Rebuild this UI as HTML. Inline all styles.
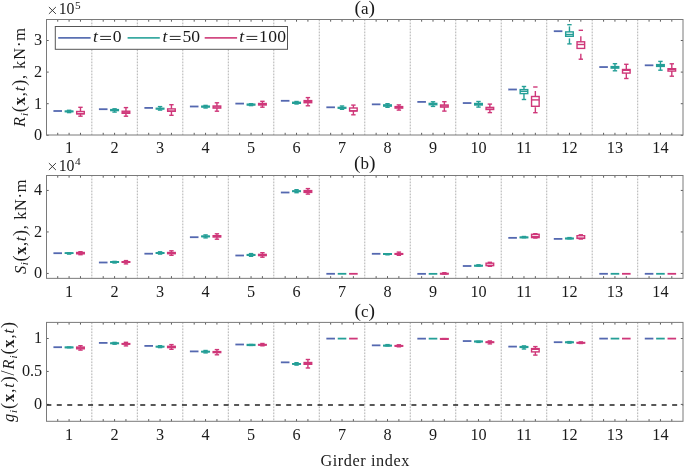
<!DOCTYPE html><html><head><meta charset="utf-8"><style>html,body{margin:0;padding:0;background:#fff;}svg{display:block;will-change:transform}</style></head><body>
<svg width="685" height="468" viewBox="0 0 685 468">
<rect width="685" height="468" fill="#fff"/>
<line x1="91.84" y1="19.5" x2="91.84" y2="135" stroke="#a3a3a3" stroke-width="0.85" stroke-dasharray="1.8 1.2"/>
<line x1="137.33" y1="19.5" x2="137.33" y2="135" stroke="#a3a3a3" stroke-width="0.85" stroke-dasharray="1.8 1.2"/>
<line x1="182.81" y1="19.5" x2="182.81" y2="135" stroke="#a3a3a3" stroke-width="0.85" stroke-dasharray="1.8 1.2"/>
<line x1="228.3" y1="19.5" x2="228.3" y2="135" stroke="#a3a3a3" stroke-width="0.85" stroke-dasharray="1.8 1.2"/>
<line x1="273.79" y1="19.5" x2="273.79" y2="135" stroke="#a3a3a3" stroke-width="0.85" stroke-dasharray="1.8 1.2"/>
<line x1="319.28" y1="19.5" x2="319.28" y2="135" stroke="#a3a3a3" stroke-width="0.85" stroke-dasharray="1.8 1.2"/>
<line x1="364.77" y1="19.5" x2="364.77" y2="135" stroke="#a3a3a3" stroke-width="0.85" stroke-dasharray="1.8 1.2"/>
<line x1="410.25" y1="19.5" x2="410.25" y2="135" stroke="#a3a3a3" stroke-width="0.85" stroke-dasharray="1.8 1.2"/>
<line x1="455.74" y1="19.5" x2="455.74" y2="135" stroke="#a3a3a3" stroke-width="0.85" stroke-dasharray="1.8 1.2"/>
<line x1="501.23" y1="19.5" x2="501.23" y2="135" stroke="#a3a3a3" stroke-width="0.85" stroke-dasharray="1.8 1.2"/>
<line x1="546.72" y1="19.5" x2="546.72" y2="135" stroke="#a3a3a3" stroke-width="0.85" stroke-dasharray="1.8 1.2"/>
<line x1="592.21" y1="19.5" x2="592.21" y2="135" stroke="#a3a3a3" stroke-width="0.85" stroke-dasharray="1.8 1.2"/>
<line x1="637.69" y1="19.5" x2="637.69" y2="135" stroke="#a3a3a3" stroke-width="0.85" stroke-dasharray="1.8 1.2"/>
<line x1="57.72" y1="135" x2="57.72" y2="132.8" stroke="#333" stroke-width="0.8"/>
<line x1="57.72" y1="19.5" x2="57.72" y2="21.7" stroke="#333" stroke-width="0.8"/>
<line x1="69.09" y1="135" x2="69.09" y2="132.8" stroke="#333" stroke-width="0.8"/>
<line x1="69.09" y1="19.5" x2="69.09" y2="21.7" stroke="#333" stroke-width="0.8"/>
<line x1="80.47" y1="135" x2="80.47" y2="132.8" stroke="#333" stroke-width="0.8"/>
<line x1="80.47" y1="19.5" x2="80.47" y2="21.7" stroke="#333" stroke-width="0.8"/>
<line x1="103.21" y1="135" x2="103.21" y2="132.8" stroke="#333" stroke-width="0.8"/>
<line x1="103.21" y1="19.5" x2="103.21" y2="21.7" stroke="#333" stroke-width="0.8"/>
<line x1="114.58" y1="135" x2="114.58" y2="132.8" stroke="#333" stroke-width="0.8"/>
<line x1="114.58" y1="19.5" x2="114.58" y2="21.7" stroke="#333" stroke-width="0.8"/>
<line x1="125.95" y1="135" x2="125.95" y2="132.8" stroke="#333" stroke-width="0.8"/>
<line x1="125.95" y1="19.5" x2="125.95" y2="21.7" stroke="#333" stroke-width="0.8"/>
<line x1="148.7" y1="135" x2="148.7" y2="132.8" stroke="#333" stroke-width="0.8"/>
<line x1="148.7" y1="19.5" x2="148.7" y2="21.7" stroke="#333" stroke-width="0.8"/>
<line x1="160.07" y1="135" x2="160.07" y2="132.8" stroke="#333" stroke-width="0.8"/>
<line x1="160.07" y1="19.5" x2="160.07" y2="21.7" stroke="#333" stroke-width="0.8"/>
<line x1="171.44" y1="135" x2="171.44" y2="132.8" stroke="#333" stroke-width="0.8"/>
<line x1="171.44" y1="19.5" x2="171.44" y2="21.7" stroke="#333" stroke-width="0.8"/>
<line x1="194.19" y1="135" x2="194.19" y2="132.8" stroke="#333" stroke-width="0.8"/>
<line x1="194.19" y1="19.5" x2="194.19" y2="21.7" stroke="#333" stroke-width="0.8"/>
<line x1="205.56" y1="135" x2="205.56" y2="132.8" stroke="#333" stroke-width="0.8"/>
<line x1="205.56" y1="19.5" x2="205.56" y2="21.7" stroke="#333" stroke-width="0.8"/>
<line x1="216.93" y1="135" x2="216.93" y2="132.8" stroke="#333" stroke-width="0.8"/>
<line x1="216.93" y1="19.5" x2="216.93" y2="21.7" stroke="#333" stroke-width="0.8"/>
<line x1="239.67" y1="135" x2="239.67" y2="132.8" stroke="#333" stroke-width="0.8"/>
<line x1="239.67" y1="19.5" x2="239.67" y2="21.7" stroke="#333" stroke-width="0.8"/>
<line x1="251.05" y1="135" x2="251.05" y2="132.8" stroke="#333" stroke-width="0.8"/>
<line x1="251.05" y1="19.5" x2="251.05" y2="21.7" stroke="#333" stroke-width="0.8"/>
<line x1="262.42" y1="135" x2="262.42" y2="132.8" stroke="#333" stroke-width="0.8"/>
<line x1="262.42" y1="19.5" x2="262.42" y2="21.7" stroke="#333" stroke-width="0.8"/>
<line x1="285.16" y1="135" x2="285.16" y2="132.8" stroke="#333" stroke-width="0.8"/>
<line x1="285.16" y1="19.5" x2="285.16" y2="21.7" stroke="#333" stroke-width="0.8"/>
<line x1="296.53" y1="135" x2="296.53" y2="132.8" stroke="#333" stroke-width="0.8"/>
<line x1="296.53" y1="19.5" x2="296.53" y2="21.7" stroke="#333" stroke-width="0.8"/>
<line x1="307.91" y1="135" x2="307.91" y2="132.8" stroke="#333" stroke-width="0.8"/>
<line x1="307.91" y1="19.5" x2="307.91" y2="21.7" stroke="#333" stroke-width="0.8"/>
<line x1="330.65" y1="135" x2="330.65" y2="132.8" stroke="#333" stroke-width="0.8"/>
<line x1="330.65" y1="19.5" x2="330.65" y2="21.7" stroke="#333" stroke-width="0.8"/>
<line x1="342.02" y1="135" x2="342.02" y2="132.8" stroke="#333" stroke-width="0.8"/>
<line x1="342.02" y1="19.5" x2="342.02" y2="21.7" stroke="#333" stroke-width="0.8"/>
<line x1="353.39" y1="135" x2="353.39" y2="132.8" stroke="#333" stroke-width="0.8"/>
<line x1="353.39" y1="19.5" x2="353.39" y2="21.7" stroke="#333" stroke-width="0.8"/>
<line x1="376.14" y1="135" x2="376.14" y2="132.8" stroke="#333" stroke-width="0.8"/>
<line x1="376.14" y1="19.5" x2="376.14" y2="21.7" stroke="#333" stroke-width="0.8"/>
<line x1="387.51" y1="135" x2="387.51" y2="132.8" stroke="#333" stroke-width="0.8"/>
<line x1="387.51" y1="19.5" x2="387.51" y2="21.7" stroke="#333" stroke-width="0.8"/>
<line x1="398.88" y1="135" x2="398.88" y2="132.8" stroke="#333" stroke-width="0.8"/>
<line x1="398.88" y1="19.5" x2="398.88" y2="21.7" stroke="#333" stroke-width="0.8"/>
<line x1="421.63" y1="135" x2="421.63" y2="132.8" stroke="#333" stroke-width="0.8"/>
<line x1="421.63" y1="19.5" x2="421.63" y2="21.7" stroke="#333" stroke-width="0.8"/>
<line x1="433" y1="135" x2="433" y2="132.8" stroke="#333" stroke-width="0.8"/>
<line x1="433" y1="19.5" x2="433" y2="21.7" stroke="#333" stroke-width="0.8"/>
<line x1="444.37" y1="135" x2="444.37" y2="132.8" stroke="#333" stroke-width="0.8"/>
<line x1="444.37" y1="19.5" x2="444.37" y2="21.7" stroke="#333" stroke-width="0.8"/>
<line x1="467.11" y1="135" x2="467.11" y2="132.8" stroke="#333" stroke-width="0.8"/>
<line x1="467.11" y1="19.5" x2="467.11" y2="21.7" stroke="#333" stroke-width="0.8"/>
<line x1="478.49" y1="135" x2="478.49" y2="132.8" stroke="#333" stroke-width="0.8"/>
<line x1="478.49" y1="19.5" x2="478.49" y2="21.7" stroke="#333" stroke-width="0.8"/>
<line x1="489.86" y1="135" x2="489.86" y2="132.8" stroke="#333" stroke-width="0.8"/>
<line x1="489.86" y1="19.5" x2="489.86" y2="21.7" stroke="#333" stroke-width="0.8"/>
<line x1="512.6" y1="135" x2="512.6" y2="132.8" stroke="#333" stroke-width="0.8"/>
<line x1="512.6" y1="19.5" x2="512.6" y2="21.7" stroke="#333" stroke-width="0.8"/>
<line x1="523.97" y1="135" x2="523.97" y2="132.8" stroke="#333" stroke-width="0.8"/>
<line x1="523.97" y1="19.5" x2="523.97" y2="21.7" stroke="#333" stroke-width="0.8"/>
<line x1="535.35" y1="135" x2="535.35" y2="132.8" stroke="#333" stroke-width="0.8"/>
<line x1="535.35" y1="19.5" x2="535.35" y2="21.7" stroke="#333" stroke-width="0.8"/>
<line x1="558.09" y1="135" x2="558.09" y2="132.8" stroke="#333" stroke-width="0.8"/>
<line x1="558.09" y1="19.5" x2="558.09" y2="21.7" stroke="#333" stroke-width="0.8"/>
<line x1="569.46" y1="135" x2="569.46" y2="132.8" stroke="#333" stroke-width="0.8"/>
<line x1="569.46" y1="19.5" x2="569.46" y2="21.7" stroke="#333" stroke-width="0.8"/>
<line x1="580.83" y1="135" x2="580.83" y2="132.8" stroke="#333" stroke-width="0.8"/>
<line x1="580.83" y1="19.5" x2="580.83" y2="21.7" stroke="#333" stroke-width="0.8"/>
<line x1="603.58" y1="135" x2="603.58" y2="132.8" stroke="#333" stroke-width="0.8"/>
<line x1="603.58" y1="19.5" x2="603.58" y2="21.7" stroke="#333" stroke-width="0.8"/>
<line x1="614.95" y1="135" x2="614.95" y2="132.8" stroke="#333" stroke-width="0.8"/>
<line x1="614.95" y1="19.5" x2="614.95" y2="21.7" stroke="#333" stroke-width="0.8"/>
<line x1="626.32" y1="135" x2="626.32" y2="132.8" stroke="#333" stroke-width="0.8"/>
<line x1="626.32" y1="19.5" x2="626.32" y2="21.7" stroke="#333" stroke-width="0.8"/>
<line x1="649.07" y1="135" x2="649.07" y2="132.8" stroke="#333" stroke-width="0.8"/>
<line x1="649.07" y1="19.5" x2="649.07" y2="21.7" stroke="#333" stroke-width="0.8"/>
<line x1="660.44" y1="135" x2="660.44" y2="132.8" stroke="#333" stroke-width="0.8"/>
<line x1="660.44" y1="19.5" x2="660.44" y2="21.7" stroke="#333" stroke-width="0.8"/>
<line x1="671.81" y1="135" x2="671.81" y2="132.8" stroke="#333" stroke-width="0.8"/>
<line x1="671.81" y1="19.5" x2="671.81" y2="21.7" stroke="#333" stroke-width="0.8"/>
<line x1="46.5" y1="135.3" x2="48.7" y2="135.3" stroke="#333" stroke-width="0.8"/>
<line x1="683" y1="135.3" x2="680.8" y2="135.3" stroke="#333" stroke-width="0.8"/>
<text x="42.2" y="140.2" text-anchor="end" font-family="'Liberation Serif', serif" font-size="16.2" fill="#1a1a1a">0</text>
<line x1="46.5" y1="103.7" x2="48.7" y2="103.7" stroke="#333" stroke-width="0.8"/>
<line x1="683" y1="103.7" x2="680.8" y2="103.7" stroke="#333" stroke-width="0.8"/>
<text x="42.2" y="108.6" text-anchor="end" font-family="'Liberation Serif', serif" font-size="16.2" fill="#1a1a1a">1</text>
<line x1="46.5" y1="72.1" x2="48.7" y2="72.1" stroke="#333" stroke-width="0.8"/>
<line x1="683" y1="72.1" x2="680.8" y2="72.1" stroke="#333" stroke-width="0.8"/>
<text x="42.2" y="77" text-anchor="end" font-family="'Liberation Serif', serif" font-size="16.2" fill="#1a1a1a">2</text>
<line x1="46.5" y1="40.5" x2="48.7" y2="40.5" stroke="#333" stroke-width="0.8"/>
<line x1="683" y1="40.5" x2="680.8" y2="40.5" stroke="#333" stroke-width="0.8"/>
<text x="42.2" y="45.4" text-anchor="end" font-family="'Liberation Serif', serif" font-size="16.2" fill="#1a1a1a">3</text>
<text x="69.09" y="153.2" text-anchor="middle" font-family="'Liberation Serif', serif" font-size="16.2" fill="#1a1a1a">1</text>
<text x="114.58" y="153.2" text-anchor="middle" font-family="'Liberation Serif', serif" font-size="16.2" fill="#1a1a1a">2</text>
<text x="160.07" y="153.2" text-anchor="middle" font-family="'Liberation Serif', serif" font-size="16.2" fill="#1a1a1a">3</text>
<text x="205.56" y="153.2" text-anchor="middle" font-family="'Liberation Serif', serif" font-size="16.2" fill="#1a1a1a">4</text>
<text x="251.05" y="153.2" text-anchor="middle" font-family="'Liberation Serif', serif" font-size="16.2" fill="#1a1a1a">5</text>
<text x="296.53" y="153.2" text-anchor="middle" font-family="'Liberation Serif', serif" font-size="16.2" fill="#1a1a1a">6</text>
<text x="342.02" y="153.2" text-anchor="middle" font-family="'Liberation Serif', serif" font-size="16.2" fill="#1a1a1a">7</text>
<text x="387.51" y="153.2" text-anchor="middle" font-family="'Liberation Serif', serif" font-size="16.2" fill="#1a1a1a">8</text>
<text x="433" y="153.2" text-anchor="middle" font-family="'Liberation Serif', serif" font-size="16.2" fill="#1a1a1a">9</text>
<text x="478.49" y="153.2" text-anchor="middle" font-family="'Liberation Serif', serif" font-size="16.2" fill="#1a1a1a">10</text>
<text x="523.97" y="153.2" text-anchor="middle" font-family="'Liberation Serif', serif" font-size="16.2" fill="#1a1a1a">11</text>
<text x="569.46" y="153.2" text-anchor="middle" font-family="'Liberation Serif', serif" font-size="16.2" fill="#1a1a1a">12</text>
<text x="614.95" y="153.2" text-anchor="middle" font-family="'Liberation Serif', serif" font-size="16.2" fill="#1a1a1a">13</text>
<text x="660.44" y="153.2" text-anchor="middle" font-family="'Liberation Serif', serif" font-size="16.2" fill="#1a1a1a">14</text>
<line x1="53.42" y1="111" x2="62.02" y2="111" stroke="#5468b0" stroke-width="1.8"/>
<line x1="69.09" y1="111.1" x2="69.09" y2="110.3" stroke="#259f97" stroke-width="1.4" stroke-dasharray="5.5 5.5"/>
<line x1="69.09" y1="112.6" x2="69.09" y2="111.7" stroke="#259f97" stroke-width="1.4" stroke-dasharray="5.5 5.5"/>
<line x1="66.89" y1="110.3" x2="71.29" y2="110.3" stroke="#259f97" stroke-width="1.4"/>
<line x1="66.89" y1="112.6" x2="71.29" y2="112.6" stroke="#259f97" stroke-width="1.4"/>
<rect x="65.29" y="111.1" width="7.6" height="0.6" fill="none" stroke="#259f97" stroke-width="1.4"/>
<line x1="65.29" y1="111.4" x2="72.89" y2="111.4" stroke="#259f97" stroke-width="1.4"/>
<line x1="80.47" y1="111.5" x2="80.47" y2="107.3" stroke="#cf3779" stroke-width="1.4" stroke-dasharray="5.5 5.5"/>
<line x1="80.47" y1="116.2" x2="80.47" y2="113.9" stroke="#cf3779" stroke-width="1.4" stroke-dasharray="5.5 5.5"/>
<line x1="78.27" y1="107.3" x2="82.67" y2="107.3" stroke="#cf3779" stroke-width="1.4"/>
<line x1="78.27" y1="116.2" x2="82.67" y2="116.2" stroke="#cf3779" stroke-width="1.4"/>
<rect x="76.67" y="111.5" width="7.6" height="2.4" fill="none" stroke="#cf3779" stroke-width="1.4"/>
<line x1="76.67" y1="113.6" x2="84.27" y2="113.6" stroke="#cf3779" stroke-width="1.4"/>
<line x1="98.91" y1="109.2" x2="107.51" y2="109.2" stroke="#5468b0" stroke-width="1.8"/>
<line x1="114.58" y1="109.6" x2="114.58" y2="108.8" stroke="#259f97" stroke-width="1.4" stroke-dasharray="5.5 5.5"/>
<line x1="114.58" y1="112.1" x2="114.58" y2="110.6" stroke="#259f97" stroke-width="1.4" stroke-dasharray="5.5 5.5"/>
<line x1="112.38" y1="108.8" x2="116.78" y2="108.8" stroke="#259f97" stroke-width="1.4"/>
<line x1="112.38" y1="112.1" x2="116.78" y2="112.1" stroke="#259f97" stroke-width="1.4"/>
<rect x="110.78" y="109.6" width="7.6" height="1" fill="none" stroke="#259f97" stroke-width="1.4"/>
<line x1="110.78" y1="110.1" x2="118.38" y2="110.1" stroke="#259f97" stroke-width="1.4"/>
<line x1="125.95" y1="111.2" x2="125.95" y2="107.6" stroke="#cf3779" stroke-width="1.4" stroke-dasharray="5.5 5.5"/>
<line x1="125.95" y1="116.2" x2="125.95" y2="113.3" stroke="#cf3779" stroke-width="1.4" stroke-dasharray="5.5 5.5"/>
<line x1="123.75" y1="107.6" x2="128.15" y2="107.6" stroke="#cf3779" stroke-width="1.4"/>
<line x1="123.75" y1="116.2" x2="128.15" y2="116.2" stroke="#cf3779" stroke-width="1.4"/>
<rect x="122.15" y="111.2" width="7.6" height="2.1" fill="none" stroke="#cf3779" stroke-width="1.4"/>
<line x1="122.15" y1="112.2" x2="129.75" y2="112.2" stroke="#cf3779" stroke-width="1.4"/>
<line x1="144.4" y1="107.9" x2="153" y2="107.9" stroke="#5468b0" stroke-width="1.8"/>
<line x1="160.07" y1="108.3" x2="160.07" y2="106.6" stroke="#259f97" stroke-width="1.4" stroke-dasharray="5.5 5.5"/>
<line x1="160.07" y1="110.1" x2="160.07" y2="109" stroke="#259f97" stroke-width="1.4" stroke-dasharray="5.5 5.5"/>
<line x1="157.87" y1="106.6" x2="162.27" y2="106.6" stroke="#259f97" stroke-width="1.4"/>
<line x1="157.87" y1="110.1" x2="162.27" y2="110.1" stroke="#259f97" stroke-width="1.4"/>
<rect x="156.27" y="108.3" width="7.6" height="0.7" fill="none" stroke="#259f97" stroke-width="1.4"/>
<line x1="156.27" y1="108.65" x2="163.87" y2="108.65" stroke="#259f97" stroke-width="1.4"/>
<line x1="171.44" y1="108.9" x2="171.44" y2="104.7" stroke="#cf3779" stroke-width="1.4" stroke-dasharray="5.5 5.5"/>
<line x1="171.44" y1="115.3" x2="171.44" y2="111.3" stroke="#cf3779" stroke-width="1.4" stroke-dasharray="5.5 5.5"/>
<line x1="169.24" y1="104.7" x2="173.64" y2="104.7" stroke="#cf3779" stroke-width="1.4"/>
<line x1="169.24" y1="115.3" x2="173.64" y2="115.3" stroke="#cf3779" stroke-width="1.4"/>
<rect x="167.64" y="108.9" width="7.6" height="2.4" fill="none" stroke="#cf3779" stroke-width="1.4"/>
<line x1="167.64" y1="111.1" x2="175.24" y2="111.1" stroke="#cf3779" stroke-width="1.4"/>
<line x1="189.89" y1="106.5" x2="198.49" y2="106.5" stroke="#5468b0" stroke-width="1.8"/>
<line x1="205.56" y1="106.2" x2="205.56" y2="105.4" stroke="#259f97" stroke-width="1.4" stroke-dasharray="5.5 5.5"/>
<line x1="205.56" y1="108" x2="205.56" y2="107" stroke="#259f97" stroke-width="1.4" stroke-dasharray="5.5 5.5"/>
<line x1="203.36" y1="105.4" x2="207.76" y2="105.4" stroke="#259f97" stroke-width="1.4"/>
<line x1="203.36" y1="108" x2="207.76" y2="108" stroke="#259f97" stroke-width="1.4"/>
<rect x="201.76" y="106.2" width="7.6" height="0.8" fill="none" stroke="#259f97" stroke-width="1.4"/>
<line x1="201.76" y1="106.6" x2="209.36" y2="106.6" stroke="#259f97" stroke-width="1.4"/>
<line x1="216.93" y1="106" x2="216.93" y2="102.8" stroke="#cf3779" stroke-width="1.4" stroke-dasharray="5.5 5.5"/>
<line x1="216.93" y1="111.2" x2="216.93" y2="108.1" stroke="#cf3779" stroke-width="1.4" stroke-dasharray="5.5 5.5"/>
<line x1="214.73" y1="102.8" x2="219.13" y2="102.8" stroke="#cf3779" stroke-width="1.4"/>
<line x1="214.73" y1="111.2" x2="219.13" y2="111.2" stroke="#cf3779" stroke-width="1.4"/>
<rect x="213.13" y="106" width="7.6" height="2.1" fill="none" stroke="#cf3779" stroke-width="1.4"/>
<line x1="213.13" y1="107" x2="220.73" y2="107" stroke="#cf3779" stroke-width="1.4"/>
<line x1="235.37" y1="103.6" x2="243.97" y2="103.6" stroke="#5468b0" stroke-width="1.8"/>
<line x1="251.05" y1="104.2" x2="251.05" y2="103.7" stroke="#259f97" stroke-width="1.4" stroke-dasharray="5.5 5.5"/>
<line x1="251.05" y1="105.6" x2="251.05" y2="105" stroke="#259f97" stroke-width="1.4" stroke-dasharray="5.5 5.5"/>
<line x1="248.85" y1="103.7" x2="253.25" y2="103.7" stroke="#259f97" stroke-width="1.4"/>
<line x1="248.85" y1="105.6" x2="253.25" y2="105.6" stroke="#259f97" stroke-width="1.4"/>
<rect x="247.25" y="104.2" width="7.6" height="0.8" fill="none" stroke="#259f97" stroke-width="1.4"/>
<line x1="247.25" y1="104.6" x2="254.85" y2="104.6" stroke="#259f97" stroke-width="1.4"/>
<line x1="262.42" y1="103.5" x2="262.42" y2="101.3" stroke="#cf3779" stroke-width="1.4" stroke-dasharray="5.5 5.5"/>
<line x1="262.42" y1="107.2" x2="262.42" y2="105" stroke="#cf3779" stroke-width="1.4" stroke-dasharray="5.5 5.5"/>
<line x1="260.22" y1="101.3" x2="264.62" y2="101.3" stroke="#cf3779" stroke-width="1.4"/>
<line x1="260.22" y1="107.2" x2="264.62" y2="107.2" stroke="#cf3779" stroke-width="1.4"/>
<rect x="258.62" y="103.5" width="7.6" height="1.5" fill="none" stroke="#cf3779" stroke-width="1.4"/>
<line x1="258.62" y1="104.3" x2="266.22" y2="104.3" stroke="#cf3779" stroke-width="1.4"/>
<line x1="280.86" y1="100.8" x2="289.46" y2="100.8" stroke="#5468b0" stroke-width="1.8"/>
<line x1="296.53" y1="102.3" x2="296.53" y2="101.5" stroke="#259f97" stroke-width="1.4" stroke-dasharray="5.5 5.5"/>
<line x1="296.53" y1="104" x2="296.53" y2="103.3" stroke="#259f97" stroke-width="1.4" stroke-dasharray="5.5 5.5"/>
<line x1="294.33" y1="101.5" x2="298.73" y2="101.5" stroke="#259f97" stroke-width="1.4"/>
<line x1="294.33" y1="104" x2="298.73" y2="104" stroke="#259f97" stroke-width="1.4"/>
<rect x="292.73" y="102.3" width="7.6" height="1" fill="none" stroke="#259f97" stroke-width="1.4"/>
<line x1="292.73" y1="102.8" x2="300.33" y2="102.8" stroke="#259f97" stroke-width="1.4"/>
<line x1="307.91" y1="100.6" x2="307.91" y2="97.6" stroke="#cf3779" stroke-width="1.4" stroke-dasharray="5.5 5.5"/>
<line x1="307.91" y1="105.8" x2="307.91" y2="102.7" stroke="#cf3779" stroke-width="1.4" stroke-dasharray="5.5 5.5"/>
<line x1="305.71" y1="97.6" x2="310.11" y2="97.6" stroke="#cf3779" stroke-width="1.4"/>
<line x1="305.71" y1="105.8" x2="310.11" y2="105.8" stroke="#cf3779" stroke-width="1.4"/>
<rect x="304.11" y="100.6" width="7.6" height="2.1" fill="none" stroke="#cf3779" stroke-width="1.4"/>
<line x1="304.11" y1="101.6" x2="311.71" y2="101.6" stroke="#cf3779" stroke-width="1.4"/>
<line x1="326.35" y1="107.3" x2="334.95" y2="107.3" stroke="#5468b0" stroke-width="1.8"/>
<line x1="342.02" y1="107.4" x2="342.02" y2="106" stroke="#259f97" stroke-width="1.4" stroke-dasharray="5.5 5.5"/>
<line x1="342.02" y1="109.3" x2="342.02" y2="108.2" stroke="#259f97" stroke-width="1.4" stroke-dasharray="5.5 5.5"/>
<line x1="339.82" y1="106" x2="344.22" y2="106" stroke="#259f97" stroke-width="1.4"/>
<line x1="339.82" y1="109.3" x2="344.22" y2="109.3" stroke="#259f97" stroke-width="1.4"/>
<rect x="338.22" y="107.4" width="7.6" height="0.8" fill="none" stroke="#259f97" stroke-width="1.4"/>
<line x1="338.22" y1="107.8" x2="345.82" y2="107.8" stroke="#259f97" stroke-width="1.4"/>
<line x1="353.39" y1="108" x2="353.39" y2="105.1" stroke="#cf3779" stroke-width="1.4" stroke-dasharray="5.5 5.5"/>
<line x1="353.39" y1="114.8" x2="353.39" y2="111" stroke="#cf3779" stroke-width="1.4" stroke-dasharray="5.5 5.5"/>
<line x1="351.19" y1="105.1" x2="355.59" y2="105.1" stroke="#cf3779" stroke-width="1.4"/>
<line x1="351.19" y1="114.8" x2="355.59" y2="114.8" stroke="#cf3779" stroke-width="1.4"/>
<rect x="349.59" y="108" width="7.6" height="3" fill="none" stroke="#cf3779" stroke-width="1.4"/>
<line x1="349.59" y1="110.8" x2="357.19" y2="110.8" stroke="#cf3779" stroke-width="1.4"/>
<line x1="371.84" y1="104.35" x2="380.44" y2="104.35" stroke="#5468b0" stroke-width="1.8"/>
<line x1="387.51" y1="104.9" x2="387.51" y2="103.7" stroke="#259f97" stroke-width="1.4" stroke-dasharray="5.5 5.5"/>
<line x1="387.51" y1="107.3" x2="387.51" y2="106.1" stroke="#259f97" stroke-width="1.4" stroke-dasharray="5.5 5.5"/>
<line x1="385.31" y1="103.7" x2="389.71" y2="103.7" stroke="#259f97" stroke-width="1.4"/>
<line x1="385.31" y1="107.3" x2="389.71" y2="107.3" stroke="#259f97" stroke-width="1.4"/>
<rect x="383.71" y="104.9" width="7.6" height="1.2" fill="none" stroke="#259f97" stroke-width="1.4"/>
<line x1="383.71" y1="105.5" x2="391.31" y2="105.5" stroke="#259f97" stroke-width="1.4"/>
<line x1="398.88" y1="106.6" x2="398.88" y2="104.9" stroke="#cf3779" stroke-width="1.4" stroke-dasharray="5.5 5.5"/>
<line x1="398.88" y1="110.1" x2="398.88" y2="108.1" stroke="#cf3779" stroke-width="1.4" stroke-dasharray="5.5 5.5"/>
<line x1="396.68" y1="104.9" x2="401.08" y2="104.9" stroke="#cf3779" stroke-width="1.4"/>
<line x1="396.68" y1="110.1" x2="401.08" y2="110.1" stroke="#cf3779" stroke-width="1.4"/>
<rect x="395.08" y="106.6" width="7.6" height="1.5" fill="none" stroke="#cf3779" stroke-width="1.4"/>
<line x1="395.08" y1="107.4" x2="402.68" y2="107.4" stroke="#cf3779" stroke-width="1.4"/>
<line x1="417.33" y1="101.9" x2="425.93" y2="101.9" stroke="#5468b0" stroke-width="1.8"/>
<line x1="433" y1="103.4" x2="433" y2="101.8" stroke="#259f97" stroke-width="1.4" stroke-dasharray="5.5 5.5"/>
<line x1="433" y1="106.4" x2="433" y2="104.7" stroke="#259f97" stroke-width="1.4" stroke-dasharray="5.5 5.5"/>
<line x1="430.8" y1="101.8" x2="435.2" y2="101.8" stroke="#259f97" stroke-width="1.4"/>
<line x1="430.8" y1="106.4" x2="435.2" y2="106.4" stroke="#259f97" stroke-width="1.4"/>
<rect x="429.2" y="103.4" width="7.6" height="1.3" fill="none" stroke="#259f97" stroke-width="1.4"/>
<line x1="429.2" y1="104.1" x2="436.8" y2="104.1" stroke="#259f97" stroke-width="1.4"/>
<line x1="444.37" y1="105" x2="444.37" y2="101.7" stroke="#cf3779" stroke-width="1.4" stroke-dasharray="5.5 5.5"/>
<line x1="444.37" y1="111.1" x2="444.37" y2="107.1" stroke="#cf3779" stroke-width="1.4" stroke-dasharray="5.5 5.5"/>
<line x1="442.17" y1="101.7" x2="446.57" y2="101.7" stroke="#cf3779" stroke-width="1.4"/>
<line x1="442.17" y1="111.1" x2="446.57" y2="111.1" stroke="#cf3779" stroke-width="1.4"/>
<rect x="440.57" y="105" width="7.6" height="2.1" fill="none" stroke="#cf3779" stroke-width="1.4"/>
<line x1="440.57" y1="106" x2="448.17" y2="106" stroke="#cf3779" stroke-width="1.4"/>
<line x1="462.81" y1="103.05" x2="471.41" y2="103.05" stroke="#5468b0" stroke-width="1.8"/>
<line x1="478.49" y1="103.5" x2="478.49" y2="101.5" stroke="#259f97" stroke-width="1.4" stroke-dasharray="5.5 5.5"/>
<line x1="478.49" y1="107.1" x2="478.49" y2="105" stroke="#259f97" stroke-width="1.4" stroke-dasharray="5.5 5.5"/>
<line x1="476.29" y1="101.5" x2="480.69" y2="101.5" stroke="#259f97" stroke-width="1.4"/>
<line x1="476.29" y1="107.1" x2="480.69" y2="107.1" stroke="#259f97" stroke-width="1.4"/>
<rect x="474.69" y="103.5" width="7.6" height="1.5" fill="none" stroke="#259f97" stroke-width="1.4"/>
<line x1="474.69" y1="104.3" x2="482.29" y2="104.3" stroke="#259f97" stroke-width="1.4"/>
<line x1="489.86" y1="107.4" x2="489.86" y2="104.1" stroke="#cf3779" stroke-width="1.4" stroke-dasharray="5.5 5.5"/>
<line x1="489.86" y1="112.6" x2="489.86" y2="109.5" stroke="#cf3779" stroke-width="1.4" stroke-dasharray="5.5 5.5"/>
<line x1="487.66" y1="104.1" x2="492.06" y2="104.1" stroke="#cf3779" stroke-width="1.4"/>
<line x1="487.66" y1="112.6" x2="492.06" y2="112.6" stroke="#cf3779" stroke-width="1.4"/>
<rect x="486.06" y="107.4" width="7.6" height="2.1" fill="none" stroke="#cf3779" stroke-width="1.4"/>
<line x1="486.06" y1="109.2" x2="493.66" y2="109.2" stroke="#cf3779" stroke-width="1.4"/>
<line x1="508.3" y1="89.5" x2="516.9" y2="89.5" stroke="#5468b0" stroke-width="1.8"/>
<line x1="523.97" y1="89.6" x2="523.97" y2="86.5" stroke="#259f97" stroke-width="1.4" stroke-dasharray="5.5 5.5"/>
<line x1="523.97" y1="99.5" x2="523.97" y2="93.6" stroke="#259f97" stroke-width="1.4" stroke-dasharray="5.5 5.5"/>
<line x1="521.77" y1="86.5" x2="526.17" y2="86.5" stroke="#259f97" stroke-width="1.4"/>
<line x1="521.77" y1="99.5" x2="526.17" y2="99.5" stroke="#259f97" stroke-width="1.4"/>
<rect x="520.17" y="89.6" width="7.6" height="4" fill="none" stroke="#259f97" stroke-width="1.4"/>
<line x1="520.17" y1="91.3" x2="527.77" y2="91.3" stroke="#259f97" stroke-width="1.4"/>
<line x1="535.35" y1="96.5" x2="535.35" y2="87" stroke="#cf3779" stroke-width="1.4" stroke-dasharray="5.5 5.5"/>
<line x1="535.35" y1="112.7" x2="535.35" y2="106.3" stroke="#cf3779" stroke-width="1.4" stroke-dasharray="5.5 5.5"/>
<line x1="533.15" y1="87" x2="537.55" y2="87" stroke="#cf3779" stroke-width="1.4"/>
<line x1="533.15" y1="112.7" x2="537.55" y2="112.7" stroke="#cf3779" stroke-width="1.4"/>
<rect x="531.55" y="96.5" width="7.6" height="9.8" fill="none" stroke="#cf3779" stroke-width="1.4"/>
<line x1="531.55" y1="99.9" x2="539.15" y2="99.9" stroke="#cf3779" stroke-width="1.4"/>
<line x1="553.79" y1="31.2" x2="562.39" y2="31.2" stroke="#5468b0" stroke-width="1.8"/>
<line x1="569.46" y1="31.9" x2="569.46" y2="24.7" stroke="#259f97" stroke-width="1.4" stroke-dasharray="5.5 5.5"/>
<line x1="569.46" y1="43.9" x2="569.46" y2="36.3" stroke="#259f97" stroke-width="1.4" stroke-dasharray="5.5 5.5"/>
<line x1="567.26" y1="24.7" x2="571.66" y2="24.7" stroke="#259f97" stroke-width="1.4"/>
<line x1="567.26" y1="43.9" x2="571.66" y2="43.9" stroke="#259f97" stroke-width="1.4"/>
<rect x="565.66" y="31.9" width="7.6" height="4.4" fill="none" stroke="#259f97" stroke-width="1.4"/>
<line x1="565.66" y1="34.5" x2="573.26" y2="34.5" stroke="#259f97" stroke-width="1.4"/>
<line x1="580.83" y1="41.8" x2="580.83" y2="30.3" stroke="#cf3779" stroke-width="1.4" stroke-dasharray="5.5 5.5"/>
<line x1="580.83" y1="59.2" x2="580.83" y2="48.4" stroke="#cf3779" stroke-width="1.4" stroke-dasharray="5.5 5.5"/>
<line x1="578.63" y1="30.3" x2="583.03" y2="30.3" stroke="#cf3779" stroke-width="1.4"/>
<line x1="578.63" y1="59.2" x2="583.03" y2="59.2" stroke="#cf3779" stroke-width="1.4"/>
<rect x="577.03" y="41.8" width="7.6" height="6.6" fill="none" stroke="#cf3779" stroke-width="1.4"/>
<line x1="577.03" y1="44.5" x2="584.63" y2="44.5" stroke="#cf3779" stroke-width="1.4"/>
<line x1="599.28" y1="67.05" x2="607.88" y2="67.05" stroke="#5468b0" stroke-width="1.8"/>
<line x1="614.95" y1="66.6" x2="614.95" y2="63.7" stroke="#259f97" stroke-width="1.4" stroke-dasharray="5.5 5.5"/>
<line x1="614.95" y1="70.8" x2="614.95" y2="68.1" stroke="#259f97" stroke-width="1.4" stroke-dasharray="5.5 5.5"/>
<line x1="612.75" y1="63.7" x2="617.15" y2="63.7" stroke="#259f97" stroke-width="1.4"/>
<line x1="612.75" y1="70.8" x2="617.15" y2="70.8" stroke="#259f97" stroke-width="1.4"/>
<rect x="611.15" y="66.6" width="7.6" height="1.5" fill="none" stroke="#259f97" stroke-width="1.4"/>
<line x1="611.15" y1="67.4" x2="618.75" y2="67.4" stroke="#259f97" stroke-width="1.4"/>
<line x1="626.32" y1="69.5" x2="626.32" y2="64.3" stroke="#cf3779" stroke-width="1.4" stroke-dasharray="5.5 5.5"/>
<line x1="626.32" y1="78.5" x2="626.32" y2="73.1" stroke="#cf3779" stroke-width="1.4" stroke-dasharray="5.5 5.5"/>
<line x1="624.12" y1="64.3" x2="628.52" y2="64.3" stroke="#cf3779" stroke-width="1.4"/>
<line x1="624.12" y1="78.5" x2="628.52" y2="78.5" stroke="#cf3779" stroke-width="1.4"/>
<rect x="622.52" y="69.5" width="7.6" height="3.6" fill="none" stroke="#cf3779" stroke-width="1.4"/>
<line x1="622.52" y1="70.3" x2="630.12" y2="70.3" stroke="#cf3779" stroke-width="1.4"/>
<line x1="644.77" y1="65.3" x2="653.37" y2="65.3" stroke="#5468b0" stroke-width="1.8"/>
<line x1="660.44" y1="64.6" x2="660.44" y2="61.4" stroke="#259f97" stroke-width="1.4" stroke-dasharray="5.5 5.5"/>
<line x1="660.44" y1="70.2" x2="660.44" y2="66.4" stroke="#259f97" stroke-width="1.4" stroke-dasharray="5.5 5.5"/>
<line x1="658.24" y1="61.4" x2="662.64" y2="61.4" stroke="#259f97" stroke-width="1.4"/>
<line x1="658.24" y1="70.2" x2="662.64" y2="70.2" stroke="#259f97" stroke-width="1.4"/>
<rect x="656.64" y="64.6" width="7.6" height="1.8" fill="none" stroke="#259f97" stroke-width="1.4"/>
<line x1="656.64" y1="65.5" x2="664.24" y2="65.5" stroke="#259f97" stroke-width="1.4"/>
<line x1="671.81" y1="68.7" x2="671.81" y2="63.8" stroke="#cf3779" stroke-width="1.4" stroke-dasharray="5.5 5.5"/>
<line x1="671.81" y1="76.2" x2="671.81" y2="71.1" stroke="#cf3779" stroke-width="1.4" stroke-dasharray="5.5 5.5"/>
<line x1="669.61" y1="63.8" x2="674.01" y2="63.8" stroke="#cf3779" stroke-width="1.4"/>
<line x1="669.61" y1="76.2" x2="674.01" y2="76.2" stroke="#cf3779" stroke-width="1.4"/>
<rect x="668.01" y="68.7" width="7.6" height="2.4" fill="none" stroke="#cf3779" stroke-width="1.4"/>
<line x1="668.01" y1="69.4" x2="675.61" y2="69.4" stroke="#cf3779" stroke-width="1.4"/>
<rect x="55.3" y="26.5" width="232.2" height="22.8" fill="#fff" stroke="#555" stroke-width="1"/>
<line x1="58.2" y1="37.8" x2="90.6" y2="37.8" stroke="#5a70b2" stroke-width="1.8"/>
<text x="92.9" y="42.3" font-family="'Liberation Serif', serif" font-style="italic" font-size="17.5" fill="#1a1a1a">t</text>
<line x1="100.2" y1="36.4" x2="111" y2="36.4" stroke="#262626" stroke-width="0.95"/>
<line x1="100.2" y1="39.5" x2="111" y2="39.5" stroke="#262626" stroke-width="0.95"/>
<text x="112.8" y="42.3" font-family="'Liberation Serif', serif" font-size="17.6" fill="#1a1a1a" textLength="8.4" lengthAdjust="spacing">0</text>
<line x1="127.6" y1="37.8" x2="159.8" y2="37.8" stroke="#3aaaa2" stroke-width="1.8"/>
<text x="162.5" y="42.3" font-family="'Liberation Serif', serif" font-style="italic" font-size="17.5" fill="#1a1a1a">t</text>
<line x1="169.8" y1="36.4" x2="180.6" y2="36.4" stroke="#262626" stroke-width="0.95"/>
<line x1="169.8" y1="39.5" x2="180.6" y2="39.5" stroke="#262626" stroke-width="0.95"/>
<text x="182.4" y="42.3" font-family="'Liberation Serif', serif" font-size="17.6" fill="#1a1a1a" textLength="17.7" lengthAdjust="spacing">50</text>
<line x1="204.7" y1="37.8" x2="237.1" y2="37.8" stroke="#d24a82" stroke-width="1.8"/>
<text x="239.2" y="42.3" font-family="'Liberation Serif', serif" font-style="italic" font-size="17.5" fill="#1a1a1a">t</text>
<line x1="246.5" y1="36.4" x2="257.3" y2="36.4" stroke="#262626" stroke-width="0.95"/>
<line x1="246.5" y1="39.5" x2="257.3" y2="39.5" stroke="#262626" stroke-width="0.95"/>
<text x="259.1" y="42.3" font-family="'Liberation Serif', serif" font-size="17.6" fill="#1a1a1a" textLength="27" lengthAdjust="spacing">100</text>
<rect x="46.5" y="19.5" width="636.5" height="115.5" fill="none" stroke="#7a7a7a" stroke-width="1"/>
<text x="364.8" y="13.8" text-anchor="middle" font-family="'Liberation Serif', serif" font-size="17" fill="#1a1a1a"><tspan font-size="19.5">(</tspan>a<tspan font-size="19.5">)</tspan></text>
<path d="M48.9 7L55.9 13.9M55.9 7L48.9 13.9" stroke="#333" stroke-width="0.95" fill="none"/>
<text x="58.7" y="14.4" font-family="'Liberation Serif', serif" font-size="15.8" fill="#1a1a1a">10<tspan font-size="11.3" dx="0.6" dy="-5.9">5</tspan></text>
<text transform="translate(25,77.5) rotate(-90)" text-anchor="middle" font-family="'Liberation Serif', serif" font-size="16.4" textLength="99" lengthAdjust="spacing" fill="#1a1a1a"><tspan font-style="italic">R</tspan><tspan font-style="italic" font-size="11" dy="2.5">i</tspan><tspan dy="-2.5" font-size="18">(</tspan><tspan font-weight="bold">x</tspan>,<tspan font-style="italic">t</tspan><tspan font-size="18">)</tspan>, kN·m</text>
<line x1="91.84" y1="175.5" x2="91.84" y2="278.35" stroke="#a3a3a3" stroke-width="0.85" stroke-dasharray="1.8 1.2"/>
<line x1="137.33" y1="175.5" x2="137.33" y2="278.35" stroke="#a3a3a3" stroke-width="0.85" stroke-dasharray="1.8 1.2"/>
<line x1="182.81" y1="175.5" x2="182.81" y2="278.35" stroke="#a3a3a3" stroke-width="0.85" stroke-dasharray="1.8 1.2"/>
<line x1="228.3" y1="175.5" x2="228.3" y2="278.35" stroke="#a3a3a3" stroke-width="0.85" stroke-dasharray="1.8 1.2"/>
<line x1="273.79" y1="175.5" x2="273.79" y2="278.35" stroke="#a3a3a3" stroke-width="0.85" stroke-dasharray="1.8 1.2"/>
<line x1="319.28" y1="175.5" x2="319.28" y2="278.35" stroke="#a3a3a3" stroke-width="0.85" stroke-dasharray="1.8 1.2"/>
<line x1="364.77" y1="175.5" x2="364.77" y2="278.35" stroke="#a3a3a3" stroke-width="0.85" stroke-dasharray="1.8 1.2"/>
<line x1="410.25" y1="175.5" x2="410.25" y2="278.35" stroke="#a3a3a3" stroke-width="0.85" stroke-dasharray="1.8 1.2"/>
<line x1="455.74" y1="175.5" x2="455.74" y2="278.35" stroke="#a3a3a3" stroke-width="0.85" stroke-dasharray="1.8 1.2"/>
<line x1="501.23" y1="175.5" x2="501.23" y2="278.35" stroke="#a3a3a3" stroke-width="0.85" stroke-dasharray="1.8 1.2"/>
<line x1="546.72" y1="175.5" x2="546.72" y2="278.35" stroke="#a3a3a3" stroke-width="0.85" stroke-dasharray="1.8 1.2"/>
<line x1="592.21" y1="175.5" x2="592.21" y2="278.35" stroke="#a3a3a3" stroke-width="0.85" stroke-dasharray="1.8 1.2"/>
<line x1="637.69" y1="175.5" x2="637.69" y2="278.35" stroke="#a3a3a3" stroke-width="0.85" stroke-dasharray="1.8 1.2"/>
<line x1="57.72" y1="278.35" x2="57.72" y2="276.15" stroke="#333" stroke-width="0.8"/>
<line x1="57.72" y1="175.5" x2="57.72" y2="177.7" stroke="#333" stroke-width="0.8"/>
<line x1="69.09" y1="278.35" x2="69.09" y2="276.15" stroke="#333" stroke-width="0.8"/>
<line x1="69.09" y1="175.5" x2="69.09" y2="177.7" stroke="#333" stroke-width="0.8"/>
<line x1="80.47" y1="278.35" x2="80.47" y2="276.15" stroke="#333" stroke-width="0.8"/>
<line x1="80.47" y1="175.5" x2="80.47" y2="177.7" stroke="#333" stroke-width="0.8"/>
<line x1="103.21" y1="278.35" x2="103.21" y2="276.15" stroke="#333" stroke-width="0.8"/>
<line x1="103.21" y1="175.5" x2="103.21" y2="177.7" stroke="#333" stroke-width="0.8"/>
<line x1="114.58" y1="278.35" x2="114.58" y2="276.15" stroke="#333" stroke-width="0.8"/>
<line x1="114.58" y1="175.5" x2="114.58" y2="177.7" stroke="#333" stroke-width="0.8"/>
<line x1="125.95" y1="278.35" x2="125.95" y2="276.15" stroke="#333" stroke-width="0.8"/>
<line x1="125.95" y1="175.5" x2="125.95" y2="177.7" stroke="#333" stroke-width="0.8"/>
<line x1="148.7" y1="278.35" x2="148.7" y2="276.15" stroke="#333" stroke-width="0.8"/>
<line x1="148.7" y1="175.5" x2="148.7" y2="177.7" stroke="#333" stroke-width="0.8"/>
<line x1="160.07" y1="278.35" x2="160.07" y2="276.15" stroke="#333" stroke-width="0.8"/>
<line x1="160.07" y1="175.5" x2="160.07" y2="177.7" stroke="#333" stroke-width="0.8"/>
<line x1="171.44" y1="278.35" x2="171.44" y2="276.15" stroke="#333" stroke-width="0.8"/>
<line x1="171.44" y1="175.5" x2="171.44" y2="177.7" stroke="#333" stroke-width="0.8"/>
<line x1="194.19" y1="278.35" x2="194.19" y2="276.15" stroke="#333" stroke-width="0.8"/>
<line x1="194.19" y1="175.5" x2="194.19" y2="177.7" stroke="#333" stroke-width="0.8"/>
<line x1="205.56" y1="278.35" x2="205.56" y2="276.15" stroke="#333" stroke-width="0.8"/>
<line x1="205.56" y1="175.5" x2="205.56" y2="177.7" stroke="#333" stroke-width="0.8"/>
<line x1="216.93" y1="278.35" x2="216.93" y2="276.15" stroke="#333" stroke-width="0.8"/>
<line x1="216.93" y1="175.5" x2="216.93" y2="177.7" stroke="#333" stroke-width="0.8"/>
<line x1="239.67" y1="278.35" x2="239.67" y2="276.15" stroke="#333" stroke-width="0.8"/>
<line x1="239.67" y1="175.5" x2="239.67" y2="177.7" stroke="#333" stroke-width="0.8"/>
<line x1="251.05" y1="278.35" x2="251.05" y2="276.15" stroke="#333" stroke-width="0.8"/>
<line x1="251.05" y1="175.5" x2="251.05" y2="177.7" stroke="#333" stroke-width="0.8"/>
<line x1="262.42" y1="278.35" x2="262.42" y2="276.15" stroke="#333" stroke-width="0.8"/>
<line x1="262.42" y1="175.5" x2="262.42" y2="177.7" stroke="#333" stroke-width="0.8"/>
<line x1="285.16" y1="278.35" x2="285.16" y2="276.15" stroke="#333" stroke-width="0.8"/>
<line x1="285.16" y1="175.5" x2="285.16" y2="177.7" stroke="#333" stroke-width="0.8"/>
<line x1="296.53" y1="278.35" x2="296.53" y2="276.15" stroke="#333" stroke-width="0.8"/>
<line x1="296.53" y1="175.5" x2="296.53" y2="177.7" stroke="#333" stroke-width="0.8"/>
<line x1="307.91" y1="278.35" x2="307.91" y2="276.15" stroke="#333" stroke-width="0.8"/>
<line x1="307.91" y1="175.5" x2="307.91" y2="177.7" stroke="#333" stroke-width="0.8"/>
<line x1="330.65" y1="278.35" x2="330.65" y2="276.15" stroke="#333" stroke-width="0.8"/>
<line x1="330.65" y1="175.5" x2="330.65" y2="177.7" stroke="#333" stroke-width="0.8"/>
<line x1="342.02" y1="278.35" x2="342.02" y2="276.15" stroke="#333" stroke-width="0.8"/>
<line x1="342.02" y1="175.5" x2="342.02" y2="177.7" stroke="#333" stroke-width="0.8"/>
<line x1="353.39" y1="278.35" x2="353.39" y2="276.15" stroke="#333" stroke-width="0.8"/>
<line x1="353.39" y1="175.5" x2="353.39" y2="177.7" stroke="#333" stroke-width="0.8"/>
<line x1="376.14" y1="278.35" x2="376.14" y2="276.15" stroke="#333" stroke-width="0.8"/>
<line x1="376.14" y1="175.5" x2="376.14" y2="177.7" stroke="#333" stroke-width="0.8"/>
<line x1="387.51" y1="278.35" x2="387.51" y2="276.15" stroke="#333" stroke-width="0.8"/>
<line x1="387.51" y1="175.5" x2="387.51" y2="177.7" stroke="#333" stroke-width="0.8"/>
<line x1="398.88" y1="278.35" x2="398.88" y2="276.15" stroke="#333" stroke-width="0.8"/>
<line x1="398.88" y1="175.5" x2="398.88" y2="177.7" stroke="#333" stroke-width="0.8"/>
<line x1="421.63" y1="278.35" x2="421.63" y2="276.15" stroke="#333" stroke-width="0.8"/>
<line x1="421.63" y1="175.5" x2="421.63" y2="177.7" stroke="#333" stroke-width="0.8"/>
<line x1="433" y1="278.35" x2="433" y2="276.15" stroke="#333" stroke-width="0.8"/>
<line x1="433" y1="175.5" x2="433" y2="177.7" stroke="#333" stroke-width="0.8"/>
<line x1="444.37" y1="278.35" x2="444.37" y2="276.15" stroke="#333" stroke-width="0.8"/>
<line x1="444.37" y1="175.5" x2="444.37" y2="177.7" stroke="#333" stroke-width="0.8"/>
<line x1="467.11" y1="278.35" x2="467.11" y2="276.15" stroke="#333" stroke-width="0.8"/>
<line x1="467.11" y1="175.5" x2="467.11" y2="177.7" stroke="#333" stroke-width="0.8"/>
<line x1="478.49" y1="278.35" x2="478.49" y2="276.15" stroke="#333" stroke-width="0.8"/>
<line x1="478.49" y1="175.5" x2="478.49" y2="177.7" stroke="#333" stroke-width="0.8"/>
<line x1="489.86" y1="278.35" x2="489.86" y2="276.15" stroke="#333" stroke-width="0.8"/>
<line x1="489.86" y1="175.5" x2="489.86" y2="177.7" stroke="#333" stroke-width="0.8"/>
<line x1="512.6" y1="278.35" x2="512.6" y2="276.15" stroke="#333" stroke-width="0.8"/>
<line x1="512.6" y1="175.5" x2="512.6" y2="177.7" stroke="#333" stroke-width="0.8"/>
<line x1="523.97" y1="278.35" x2="523.97" y2="276.15" stroke="#333" stroke-width="0.8"/>
<line x1="523.97" y1="175.5" x2="523.97" y2="177.7" stroke="#333" stroke-width="0.8"/>
<line x1="535.35" y1="278.35" x2="535.35" y2="276.15" stroke="#333" stroke-width="0.8"/>
<line x1="535.35" y1="175.5" x2="535.35" y2="177.7" stroke="#333" stroke-width="0.8"/>
<line x1="558.09" y1="278.35" x2="558.09" y2="276.15" stroke="#333" stroke-width="0.8"/>
<line x1="558.09" y1="175.5" x2="558.09" y2="177.7" stroke="#333" stroke-width="0.8"/>
<line x1="569.46" y1="278.35" x2="569.46" y2="276.15" stroke="#333" stroke-width="0.8"/>
<line x1="569.46" y1="175.5" x2="569.46" y2="177.7" stroke="#333" stroke-width="0.8"/>
<line x1="580.83" y1="278.35" x2="580.83" y2="276.15" stroke="#333" stroke-width="0.8"/>
<line x1="580.83" y1="175.5" x2="580.83" y2="177.7" stroke="#333" stroke-width="0.8"/>
<line x1="603.58" y1="278.35" x2="603.58" y2="276.15" stroke="#333" stroke-width="0.8"/>
<line x1="603.58" y1="175.5" x2="603.58" y2="177.7" stroke="#333" stroke-width="0.8"/>
<line x1="614.95" y1="278.35" x2="614.95" y2="276.15" stroke="#333" stroke-width="0.8"/>
<line x1="614.95" y1="175.5" x2="614.95" y2="177.7" stroke="#333" stroke-width="0.8"/>
<line x1="626.32" y1="278.35" x2="626.32" y2="276.15" stroke="#333" stroke-width="0.8"/>
<line x1="626.32" y1="175.5" x2="626.32" y2="177.7" stroke="#333" stroke-width="0.8"/>
<line x1="649.07" y1="278.35" x2="649.07" y2="276.15" stroke="#333" stroke-width="0.8"/>
<line x1="649.07" y1="175.5" x2="649.07" y2="177.7" stroke="#333" stroke-width="0.8"/>
<line x1="660.44" y1="278.35" x2="660.44" y2="276.15" stroke="#333" stroke-width="0.8"/>
<line x1="660.44" y1="175.5" x2="660.44" y2="177.7" stroke="#333" stroke-width="0.8"/>
<line x1="671.81" y1="278.35" x2="671.81" y2="276.15" stroke="#333" stroke-width="0.8"/>
<line x1="671.81" y1="175.5" x2="671.81" y2="177.7" stroke="#333" stroke-width="0.8"/>
<line x1="46.5" y1="273.45" x2="48.7" y2="273.45" stroke="#333" stroke-width="0.8"/>
<line x1="683" y1="273.45" x2="680.8" y2="273.45" stroke="#333" stroke-width="0.8"/>
<text x="42.2" y="278.35" text-anchor="end" font-family="'Liberation Serif', serif" font-size="16.2" fill="#1a1a1a">0</text>
<line x1="46.5" y1="231.95" x2="48.7" y2="231.95" stroke="#333" stroke-width="0.8"/>
<line x1="683" y1="231.95" x2="680.8" y2="231.95" stroke="#333" stroke-width="0.8"/>
<text x="42.2" y="236.85" text-anchor="end" font-family="'Liberation Serif', serif" font-size="16.2" fill="#1a1a1a">2</text>
<line x1="46.5" y1="190.45" x2="48.7" y2="190.45" stroke="#333" stroke-width="0.8"/>
<line x1="683" y1="190.45" x2="680.8" y2="190.45" stroke="#333" stroke-width="0.8"/>
<text x="42.2" y="195.35" text-anchor="end" font-family="'Liberation Serif', serif" font-size="16.2" fill="#1a1a1a">4</text>
<text x="69.09" y="296.55" text-anchor="middle" font-family="'Liberation Serif', serif" font-size="16.2" fill="#1a1a1a">1</text>
<text x="114.58" y="296.55" text-anchor="middle" font-family="'Liberation Serif', serif" font-size="16.2" fill="#1a1a1a">2</text>
<text x="160.07" y="296.55" text-anchor="middle" font-family="'Liberation Serif', serif" font-size="16.2" fill="#1a1a1a">3</text>
<text x="205.56" y="296.55" text-anchor="middle" font-family="'Liberation Serif', serif" font-size="16.2" fill="#1a1a1a">4</text>
<text x="251.05" y="296.55" text-anchor="middle" font-family="'Liberation Serif', serif" font-size="16.2" fill="#1a1a1a">5</text>
<text x="296.53" y="296.55" text-anchor="middle" font-family="'Liberation Serif', serif" font-size="16.2" fill="#1a1a1a">6</text>
<text x="342.02" y="296.55" text-anchor="middle" font-family="'Liberation Serif', serif" font-size="16.2" fill="#1a1a1a">7</text>
<text x="387.51" y="296.55" text-anchor="middle" font-family="'Liberation Serif', serif" font-size="16.2" fill="#1a1a1a">8</text>
<text x="433" y="296.55" text-anchor="middle" font-family="'Liberation Serif', serif" font-size="16.2" fill="#1a1a1a">9</text>
<text x="478.49" y="296.55" text-anchor="middle" font-family="'Liberation Serif', serif" font-size="16.2" fill="#1a1a1a">10</text>
<text x="523.97" y="296.55" text-anchor="middle" font-family="'Liberation Serif', serif" font-size="16.2" fill="#1a1a1a">11</text>
<text x="569.46" y="296.55" text-anchor="middle" font-family="'Liberation Serif', serif" font-size="16.2" fill="#1a1a1a">12</text>
<text x="614.95" y="296.55" text-anchor="middle" font-family="'Liberation Serif', serif" font-size="16.2" fill="#1a1a1a">13</text>
<text x="660.44" y="296.55" text-anchor="middle" font-family="'Liberation Serif', serif" font-size="16.2" fill="#1a1a1a">14</text>
<line x1="53.42" y1="253.2" x2="62.02" y2="253.2" stroke="#5468b0" stroke-width="1.8"/>
<line x1="69.09" y1="254.1" x2="69.09" y2="253.3" stroke="#259f97" stroke-width="1.4" stroke-dasharray="5.5 5.5"/>
<line x1="66.89" y1="252.9" x2="71.29" y2="252.9" stroke="#259f97" stroke-width="1.4"/>
<line x1="66.89" y1="254.1" x2="71.29" y2="254.1" stroke="#259f97" stroke-width="1.4"/>
<rect x="65.29" y="252.9" width="7.6" height="0.4" fill="none" stroke="#259f97" stroke-width="1.4"/>
<line x1="65.29" y1="253.1" x2="72.89" y2="253.1" stroke="#259f97" stroke-width="1.4"/>
<line x1="80.47" y1="252.5" x2="80.47" y2="251.7" stroke="#cf3779" stroke-width="1.4" stroke-dasharray="5.5 5.5"/>
<line x1="80.47" y1="254.7" x2="80.47" y2="253.8" stroke="#cf3779" stroke-width="1.4" stroke-dasharray="5.5 5.5"/>
<line x1="78.27" y1="251.7" x2="82.67" y2="251.7" stroke="#cf3779" stroke-width="1.4"/>
<line x1="78.27" y1="254.7" x2="82.67" y2="254.7" stroke="#cf3779" stroke-width="1.4"/>
<rect x="76.67" y="252.5" width="7.6" height="1.3" fill="none" stroke="#cf3779" stroke-width="1.4"/>
<line x1="76.67" y1="253.2" x2="84.27" y2="253.2" stroke="#cf3779" stroke-width="1.4"/>
<line x1="98.91" y1="262.5" x2="107.51" y2="262.5" stroke="#5468b0" stroke-width="1.8"/>
<line x1="114.58" y1="261.7" x2="114.58" y2="261.4" stroke="#259f97" stroke-width="1.4" stroke-dasharray="5.5 5.5"/>
<line x1="114.58" y1="263" x2="114.58" y2="262.3" stroke="#259f97" stroke-width="1.4" stroke-dasharray="5.5 5.5"/>
<line x1="112.38" y1="261.4" x2="116.78" y2="261.4" stroke="#259f97" stroke-width="1.4"/>
<line x1="112.38" y1="263" x2="116.78" y2="263" stroke="#259f97" stroke-width="1.4"/>
<rect x="110.78" y="261.7" width="7.6" height="0.6" fill="none" stroke="#259f97" stroke-width="1.4"/>
<line x1="110.78" y1="262" x2="118.38" y2="262" stroke="#259f97" stroke-width="1.4"/>
<line x1="125.95" y1="261.7" x2="125.95" y2="260.6" stroke="#cf3779" stroke-width="1.4" stroke-dasharray="5.5 5.5"/>
<line x1="125.95" y1="263.9" x2="125.95" y2="262.3" stroke="#cf3779" stroke-width="1.4" stroke-dasharray="5.5 5.5"/>
<line x1="123.75" y1="260.6" x2="128.15" y2="260.6" stroke="#cf3779" stroke-width="1.4"/>
<line x1="123.75" y1="263.9" x2="128.15" y2="263.9" stroke="#cf3779" stroke-width="1.4"/>
<rect x="122.15" y="261.7" width="7.6" height="0.6" fill="none" stroke="#cf3779" stroke-width="1.4"/>
<line x1="122.15" y1="262" x2="129.75" y2="262" stroke="#cf3779" stroke-width="1.4"/>
<line x1="144.4" y1="253.7" x2="153" y2="253.7" stroke="#5468b0" stroke-width="1.8"/>
<line x1="160.07" y1="252.7" x2="160.07" y2="251.8" stroke="#259f97" stroke-width="1.4" stroke-dasharray="5.5 5.5"/>
<line x1="160.07" y1="254.1" x2="160.07" y2="253.3" stroke="#259f97" stroke-width="1.4" stroke-dasharray="5.5 5.5"/>
<line x1="157.87" y1="251.8" x2="162.27" y2="251.8" stroke="#259f97" stroke-width="1.4"/>
<line x1="157.87" y1="254.1" x2="162.27" y2="254.1" stroke="#259f97" stroke-width="1.4"/>
<rect x="156.27" y="252.7" width="7.6" height="0.6" fill="none" stroke="#259f97" stroke-width="1.4"/>
<line x1="156.27" y1="253" x2="163.87" y2="253" stroke="#259f97" stroke-width="1.4"/>
<line x1="171.44" y1="252.5" x2="171.44" y2="250.8" stroke="#cf3779" stroke-width="1.4" stroke-dasharray="5.5 5.5"/>
<line x1="171.44" y1="255.3" x2="171.44" y2="253.7" stroke="#cf3779" stroke-width="1.4" stroke-dasharray="5.5 5.5"/>
<line x1="169.24" y1="250.8" x2="173.64" y2="250.8" stroke="#cf3779" stroke-width="1.4"/>
<line x1="169.24" y1="255.3" x2="173.64" y2="255.3" stroke="#cf3779" stroke-width="1.4"/>
<rect x="167.64" y="252.5" width="7.6" height="1.2" fill="none" stroke="#cf3779" stroke-width="1.4"/>
<line x1="167.64" y1="253.1" x2="175.24" y2="253.1" stroke="#cf3779" stroke-width="1.4"/>
<line x1="189.89" y1="237.2" x2="198.49" y2="237.2" stroke="#5468b0" stroke-width="1.8"/>
<line x1="205.56" y1="236.1" x2="205.56" y2="234.9" stroke="#259f97" stroke-width="1.4" stroke-dasharray="5.5 5.5"/>
<line x1="205.56" y1="237.9" x2="205.56" y2="236.7" stroke="#259f97" stroke-width="1.4" stroke-dasharray="5.5 5.5"/>
<line x1="203.36" y1="234.9" x2="207.76" y2="234.9" stroke="#259f97" stroke-width="1.4"/>
<line x1="203.36" y1="237.9" x2="207.76" y2="237.9" stroke="#259f97" stroke-width="1.4"/>
<rect x="201.76" y="236.1" width="7.6" height="0.6" fill="none" stroke="#259f97" stroke-width="1.4"/>
<line x1="201.76" y1="236.4" x2="209.36" y2="236.4" stroke="#259f97" stroke-width="1.4"/>
<line x1="216.93" y1="235.7" x2="216.93" y2="233.8" stroke="#cf3779" stroke-width="1.4" stroke-dasharray="5.5 5.5"/>
<line x1="216.93" y1="239.2" x2="216.93" y2="237" stroke="#cf3779" stroke-width="1.4" stroke-dasharray="5.5 5.5"/>
<line x1="214.73" y1="233.8" x2="219.13" y2="233.8" stroke="#cf3779" stroke-width="1.4"/>
<line x1="214.73" y1="239.2" x2="219.13" y2="239.2" stroke="#cf3779" stroke-width="1.4"/>
<rect x="213.13" y="235.7" width="7.6" height="1.3" fill="none" stroke="#cf3779" stroke-width="1.4"/>
<line x1="213.13" y1="236.4" x2="220.73" y2="236.4" stroke="#cf3779" stroke-width="1.4"/>
<line x1="235.37" y1="255.5" x2="243.97" y2="255.5" stroke="#5468b0" stroke-width="1.8"/>
<line x1="251.05" y1="254.6" x2="251.05" y2="253.6" stroke="#259f97" stroke-width="1.4" stroke-dasharray="5.5 5.5"/>
<line x1="251.05" y1="256.3" x2="251.05" y2="255.3" stroke="#259f97" stroke-width="1.4" stroke-dasharray="5.5 5.5"/>
<line x1="248.85" y1="253.6" x2="253.25" y2="253.6" stroke="#259f97" stroke-width="1.4"/>
<line x1="248.85" y1="256.3" x2="253.25" y2="256.3" stroke="#259f97" stroke-width="1.4"/>
<rect x="247.25" y="254.6" width="7.6" height="0.7" fill="none" stroke="#259f97" stroke-width="1.4"/>
<line x1="247.25" y1="254.95" x2="254.85" y2="254.95" stroke="#259f97" stroke-width="1.4"/>
<line x1="262.42" y1="254.4" x2="262.42" y2="252.7" stroke="#cf3779" stroke-width="1.4" stroke-dasharray="5.5 5.5"/>
<line x1="262.42" y1="257.2" x2="262.42" y2="255.6" stroke="#cf3779" stroke-width="1.4" stroke-dasharray="5.5 5.5"/>
<line x1="260.22" y1="252.7" x2="264.62" y2="252.7" stroke="#cf3779" stroke-width="1.4"/>
<line x1="260.22" y1="257.2" x2="264.62" y2="257.2" stroke="#cf3779" stroke-width="1.4"/>
<rect x="258.62" y="254.4" width="7.6" height="1.2" fill="none" stroke="#cf3779" stroke-width="1.4"/>
<line x1="258.62" y1="255" x2="266.22" y2="255" stroke="#cf3779" stroke-width="1.4"/>
<line x1="280.86" y1="192.5" x2="289.46" y2="192.5" stroke="#5468b0" stroke-width="1.8"/>
<line x1="296.53" y1="190.9" x2="296.53" y2="189.7" stroke="#259f97" stroke-width="1.4" stroke-dasharray="5.5 5.5"/>
<line x1="296.53" y1="192.7" x2="296.53" y2="191.5" stroke="#259f97" stroke-width="1.4" stroke-dasharray="5.5 5.5"/>
<line x1="294.33" y1="189.7" x2="298.73" y2="189.7" stroke="#259f97" stroke-width="1.4"/>
<line x1="294.33" y1="192.7" x2="298.73" y2="192.7" stroke="#259f97" stroke-width="1.4"/>
<rect x="292.73" y="190.9" width="7.6" height="0.6" fill="none" stroke="#259f97" stroke-width="1.4"/>
<line x1="292.73" y1="191.2" x2="300.33" y2="191.2" stroke="#259f97" stroke-width="1.4"/>
<line x1="307.91" y1="190.6" x2="307.91" y2="188.6" stroke="#cf3779" stroke-width="1.4" stroke-dasharray="5.5 5.5"/>
<line x1="307.91" y1="194.1" x2="307.91" y2="192.4" stroke="#cf3779" stroke-width="1.4" stroke-dasharray="5.5 5.5"/>
<line x1="305.71" y1="188.6" x2="310.11" y2="188.6" stroke="#cf3779" stroke-width="1.4"/>
<line x1="305.71" y1="194.1" x2="310.11" y2="194.1" stroke="#cf3779" stroke-width="1.4"/>
<rect x="304.11" y="190.6" width="7.6" height="1.8" fill="none" stroke="#cf3779" stroke-width="1.4"/>
<line x1="304.11" y1="191.5" x2="311.71" y2="191.5" stroke="#cf3779" stroke-width="1.4"/>
<line x1="326.35" y1="273.8" x2="334.95" y2="273.8" stroke="#5468b0" stroke-width="1.8"/>
<line x1="337.72" y1="273.8" x2="346.32" y2="273.8" stroke="#259f97" stroke-width="1.8"/>
<line x1="349.09" y1="273.8" x2="357.69" y2="273.8" stroke="#cf3779" stroke-width="1.8"/>
<line x1="371.84" y1="253.8" x2="380.44" y2="253.8" stroke="#5468b0" stroke-width="1.8"/>
<line x1="387.51" y1="254.8" x2="387.51" y2="254.3" stroke="#259f97" stroke-width="1.4" stroke-dasharray="5.5 5.5"/>
<line x1="385.31" y1="253.7" x2="389.71" y2="253.7" stroke="#259f97" stroke-width="1.4"/>
<line x1="385.31" y1="254.8" x2="389.71" y2="254.8" stroke="#259f97" stroke-width="1.4"/>
<rect x="383.71" y="253.7" width="7.6" height="0.6" fill="none" stroke="#259f97" stroke-width="1.4"/>
<line x1="383.71" y1="254" x2="391.31" y2="254" stroke="#259f97" stroke-width="1.4"/>
<line x1="398.88" y1="253.6" x2="398.88" y2="252.1" stroke="#cf3779" stroke-width="1.4" stroke-dasharray="5.5 5.5"/>
<line x1="398.88" y1="255.3" x2="398.88" y2="254.3" stroke="#cf3779" stroke-width="1.4" stroke-dasharray="5.5 5.5"/>
<line x1="396.68" y1="252.1" x2="401.08" y2="252.1" stroke="#cf3779" stroke-width="1.4"/>
<line x1="396.68" y1="255.3" x2="401.08" y2="255.3" stroke="#cf3779" stroke-width="1.4"/>
<rect x="395.08" y="253.6" width="7.6" height="0.7" fill="none" stroke="#cf3779" stroke-width="1.4"/>
<line x1="395.08" y1="253.95" x2="402.68" y2="253.95" stroke="#cf3779" stroke-width="1.4"/>
<line x1="417.33" y1="273.85" x2="425.93" y2="273.85" stroke="#5468b0" stroke-width="1.8"/>
<line x1="428.7" y1="273.85" x2="437.3" y2="273.85" stroke="#259f97" stroke-width="1.8"/>
<line x1="444.37" y1="273.4" x2="444.37" y2="272.7" stroke="#cf3779" stroke-width="1.4" stroke-dasharray="5.5 5.5"/>
<line x1="442.17" y1="272.7" x2="446.57" y2="272.7" stroke="#cf3779" stroke-width="1.4"/>
<line x1="442.17" y1="274" x2="446.57" y2="274" stroke="#cf3779" stroke-width="1.4"/>
<rect x="440.57" y="273.4" width="7.6" height="0.6" fill="none" stroke="#cf3779" stroke-width="1.4"/>
<line x1="440.57" y1="273.7" x2="448.17" y2="273.7" stroke="#cf3779" stroke-width="1.4"/>
<line x1="462.81" y1="266" x2="471.41" y2="266" stroke="#5468b0" stroke-width="1.8"/>
<line x1="478.49" y1="265.4" x2="478.49" y2="264.8" stroke="#259f97" stroke-width="1.4" stroke-dasharray="5.5 5.5"/>
<line x1="476.29" y1="264.8" x2="480.69" y2="264.8" stroke="#259f97" stroke-width="1.4"/>
<line x1="476.29" y1="266" x2="480.69" y2="266" stroke="#259f97" stroke-width="1.4"/>
<rect x="474.69" y="265.4" width="7.6" height="0.6" fill="none" stroke="#259f97" stroke-width="1.4"/>
<line x1="474.69" y1="265.7" x2="482.29" y2="265.7" stroke="#259f97" stroke-width="1.4"/>
<line x1="489.86" y1="263.2" x2="489.86" y2="262.3" stroke="#cf3779" stroke-width="1.4" stroke-dasharray="5.5 5.5"/>
<line x1="489.86" y1="266.3" x2="489.86" y2="265.6" stroke="#cf3779" stroke-width="1.4" stroke-dasharray="5.5 5.5"/>
<line x1="487.66" y1="262.3" x2="492.06" y2="262.3" stroke="#cf3779" stroke-width="1.4"/>
<line x1="487.66" y1="266.3" x2="492.06" y2="266.3" stroke="#cf3779" stroke-width="1.4"/>
<rect x="486.06" y="263.2" width="7.6" height="2.4" fill="none" stroke="#cf3779" stroke-width="1.4"/>
<line x1="486.06" y1="265.4" x2="493.66" y2="265.4" stroke="#cf3779" stroke-width="1.4"/>
<line x1="508.3" y1="237.85" x2="516.9" y2="237.85" stroke="#5468b0" stroke-width="1.8"/>
<line x1="523.97" y1="237.1" x2="523.97" y2="236.5" stroke="#259f97" stroke-width="1.4" stroke-dasharray="5.5 5.5"/>
<line x1="521.77" y1="236.5" x2="526.17" y2="236.5" stroke="#259f97" stroke-width="1.4"/>
<line x1="521.77" y1="237.7" x2="526.17" y2="237.7" stroke="#259f97" stroke-width="1.4"/>
<rect x="520.17" y="237.1" width="7.6" height="0.6" fill="none" stroke="#259f97" stroke-width="1.4"/>
<line x1="520.17" y1="237.4" x2="527.77" y2="237.4" stroke="#259f97" stroke-width="1.4"/>
<line x1="535.35" y1="234.3" x2="535.35" y2="233.7" stroke="#cf3779" stroke-width="1.4" stroke-dasharray="5.5 5.5"/>
<line x1="535.35" y1="238" x2="535.35" y2="237.6" stroke="#cf3779" stroke-width="1.4" stroke-dasharray="5.5 5.5"/>
<line x1="533.15" y1="233.7" x2="537.55" y2="233.7" stroke="#cf3779" stroke-width="1.4"/>
<line x1="533.15" y1="238" x2="537.55" y2="238" stroke="#cf3779" stroke-width="1.4"/>
<rect x="531.55" y="234.3" width="7.6" height="3.3" fill="none" stroke="#cf3779" stroke-width="1.4"/>
<line x1="531.55" y1="236.5" x2="539.15" y2="236.5" stroke="#cf3779" stroke-width="1.4"/>
<line x1="553.79" y1="238.9" x2="562.39" y2="238.9" stroke="#5468b0" stroke-width="1.8"/>
<line x1="569.46" y1="238.2" x2="569.46" y2="237.6" stroke="#259f97" stroke-width="1.4" stroke-dasharray="5.5 5.5"/>
<line x1="567.26" y1="237.6" x2="571.66" y2="237.6" stroke="#259f97" stroke-width="1.4"/>
<line x1="567.26" y1="238.8" x2="571.66" y2="238.8" stroke="#259f97" stroke-width="1.4"/>
<rect x="565.66" y="238.2" width="7.6" height="0.6" fill="none" stroke="#259f97" stroke-width="1.4"/>
<line x1="565.66" y1="238.5" x2="573.26" y2="238.5" stroke="#259f97" stroke-width="1.4"/>
<line x1="580.83" y1="235.7" x2="580.83" y2="234.8" stroke="#cf3779" stroke-width="1.4" stroke-dasharray="5.5 5.5"/>
<line x1="580.83" y1="239" x2="580.83" y2="238.4" stroke="#cf3779" stroke-width="1.4" stroke-dasharray="5.5 5.5"/>
<line x1="578.63" y1="234.8" x2="583.03" y2="234.8" stroke="#cf3779" stroke-width="1.4"/>
<line x1="578.63" y1="239" x2="583.03" y2="239" stroke="#cf3779" stroke-width="1.4"/>
<rect x="577.03" y="235.7" width="7.6" height="2.7" fill="none" stroke="#cf3779" stroke-width="1.4"/>
<line x1="577.03" y1="238.2" x2="584.63" y2="238.2" stroke="#cf3779" stroke-width="1.4"/>
<line x1="599.28" y1="273.8" x2="607.88" y2="273.8" stroke="#5468b0" stroke-width="1.8"/>
<line x1="610.65" y1="273.8" x2="619.25" y2="273.8" stroke="#259f97" stroke-width="1.8"/>
<line x1="622.02" y1="273.8" x2="630.62" y2="273.8" stroke="#cf3779" stroke-width="1.8"/>
<line x1="644.77" y1="273.8" x2="653.37" y2="273.8" stroke="#5468b0" stroke-width="1.8"/>
<line x1="656.14" y1="273.8" x2="664.74" y2="273.8" stroke="#259f97" stroke-width="1.8"/>
<line x1="667.51" y1="273.8" x2="676.11" y2="273.8" stroke="#cf3779" stroke-width="1.8"/>
<rect x="46.5" y="175.5" width="636.5" height="102.85" fill="none" stroke="#7a7a7a" stroke-width="1"/>
<text x="364.8" y="169.2" text-anchor="middle" font-family="'Liberation Serif', serif" font-size="17" fill="#1a1a1a"><tspan font-size="19.5">(</tspan>b<tspan font-size="19.5">)</tspan></text>
<path d="M48.9 163.1L55.9 170M55.9 163.1L48.9 170" stroke="#333" stroke-width="0.95" fill="none"/>
<text x="58.7" y="170.5" font-family="'Liberation Serif', serif" font-size="15.8" fill="#1a1a1a">10<tspan font-size="11.3" dx="0.6" dy="-5.9">4</tspan></text>
<text transform="translate(25.5,226.8) rotate(-90)" text-anchor="middle" font-family="'Liberation Serif', serif" font-size="16.4" textLength="94.4" lengthAdjust="spacing" fill="#1a1a1a"><tspan font-style="italic">S</tspan><tspan font-style="italic" font-size="11" dy="2.5">i</tspan><tspan dy="-2.5" font-size="18">(</tspan><tspan font-weight="bold">x</tspan>,<tspan font-style="italic">t</tspan><tspan font-size="18">)</tspan>, kN·m</text>
<line x1="91.84" y1="322.4" x2="91.84" y2="421.3" stroke="#a3a3a3" stroke-width="0.85" stroke-dasharray="1.8 1.2"/>
<line x1="137.33" y1="322.4" x2="137.33" y2="421.3" stroke="#a3a3a3" stroke-width="0.85" stroke-dasharray="1.8 1.2"/>
<line x1="182.81" y1="322.4" x2="182.81" y2="421.3" stroke="#a3a3a3" stroke-width="0.85" stroke-dasharray="1.8 1.2"/>
<line x1="228.3" y1="322.4" x2="228.3" y2="421.3" stroke="#a3a3a3" stroke-width="0.85" stroke-dasharray="1.8 1.2"/>
<line x1="273.79" y1="322.4" x2="273.79" y2="421.3" stroke="#a3a3a3" stroke-width="0.85" stroke-dasharray="1.8 1.2"/>
<line x1="319.28" y1="322.4" x2="319.28" y2="421.3" stroke="#a3a3a3" stroke-width="0.85" stroke-dasharray="1.8 1.2"/>
<line x1="364.77" y1="322.4" x2="364.77" y2="421.3" stroke="#a3a3a3" stroke-width="0.85" stroke-dasharray="1.8 1.2"/>
<line x1="410.25" y1="322.4" x2="410.25" y2="421.3" stroke="#a3a3a3" stroke-width="0.85" stroke-dasharray="1.8 1.2"/>
<line x1="455.74" y1="322.4" x2="455.74" y2="421.3" stroke="#a3a3a3" stroke-width="0.85" stroke-dasharray="1.8 1.2"/>
<line x1="501.23" y1="322.4" x2="501.23" y2="421.3" stroke="#a3a3a3" stroke-width="0.85" stroke-dasharray="1.8 1.2"/>
<line x1="546.72" y1="322.4" x2="546.72" y2="421.3" stroke="#a3a3a3" stroke-width="0.85" stroke-dasharray="1.8 1.2"/>
<line x1="592.21" y1="322.4" x2="592.21" y2="421.3" stroke="#a3a3a3" stroke-width="0.85" stroke-dasharray="1.8 1.2"/>
<line x1="637.69" y1="322.4" x2="637.69" y2="421.3" stroke="#a3a3a3" stroke-width="0.85" stroke-dasharray="1.8 1.2"/>
<line x1="57.72" y1="421.3" x2="57.72" y2="419.1" stroke="#333" stroke-width="0.8"/>
<line x1="57.72" y1="322.4" x2="57.72" y2="324.6" stroke="#333" stroke-width="0.8"/>
<line x1="69.09" y1="421.3" x2="69.09" y2="419.1" stroke="#333" stroke-width="0.8"/>
<line x1="69.09" y1="322.4" x2="69.09" y2="324.6" stroke="#333" stroke-width="0.8"/>
<line x1="80.47" y1="421.3" x2="80.47" y2="419.1" stroke="#333" stroke-width="0.8"/>
<line x1="80.47" y1="322.4" x2="80.47" y2="324.6" stroke="#333" stroke-width="0.8"/>
<line x1="103.21" y1="421.3" x2="103.21" y2="419.1" stroke="#333" stroke-width="0.8"/>
<line x1="103.21" y1="322.4" x2="103.21" y2="324.6" stroke="#333" stroke-width="0.8"/>
<line x1="114.58" y1="421.3" x2="114.58" y2="419.1" stroke="#333" stroke-width="0.8"/>
<line x1="114.58" y1="322.4" x2="114.58" y2="324.6" stroke="#333" stroke-width="0.8"/>
<line x1="125.95" y1="421.3" x2="125.95" y2="419.1" stroke="#333" stroke-width="0.8"/>
<line x1="125.95" y1="322.4" x2="125.95" y2="324.6" stroke="#333" stroke-width="0.8"/>
<line x1="148.7" y1="421.3" x2="148.7" y2="419.1" stroke="#333" stroke-width="0.8"/>
<line x1="148.7" y1="322.4" x2="148.7" y2="324.6" stroke="#333" stroke-width="0.8"/>
<line x1="160.07" y1="421.3" x2="160.07" y2="419.1" stroke="#333" stroke-width="0.8"/>
<line x1="160.07" y1="322.4" x2="160.07" y2="324.6" stroke="#333" stroke-width="0.8"/>
<line x1="171.44" y1="421.3" x2="171.44" y2="419.1" stroke="#333" stroke-width="0.8"/>
<line x1="171.44" y1="322.4" x2="171.44" y2="324.6" stroke="#333" stroke-width="0.8"/>
<line x1="194.19" y1="421.3" x2="194.19" y2="419.1" stroke="#333" stroke-width="0.8"/>
<line x1="194.19" y1="322.4" x2="194.19" y2="324.6" stroke="#333" stroke-width="0.8"/>
<line x1="205.56" y1="421.3" x2="205.56" y2="419.1" stroke="#333" stroke-width="0.8"/>
<line x1="205.56" y1="322.4" x2="205.56" y2="324.6" stroke="#333" stroke-width="0.8"/>
<line x1="216.93" y1="421.3" x2="216.93" y2="419.1" stroke="#333" stroke-width="0.8"/>
<line x1="216.93" y1="322.4" x2="216.93" y2="324.6" stroke="#333" stroke-width="0.8"/>
<line x1="239.67" y1="421.3" x2="239.67" y2="419.1" stroke="#333" stroke-width="0.8"/>
<line x1="239.67" y1="322.4" x2="239.67" y2="324.6" stroke="#333" stroke-width="0.8"/>
<line x1="251.05" y1="421.3" x2="251.05" y2="419.1" stroke="#333" stroke-width="0.8"/>
<line x1="251.05" y1="322.4" x2="251.05" y2="324.6" stroke="#333" stroke-width="0.8"/>
<line x1="262.42" y1="421.3" x2="262.42" y2="419.1" stroke="#333" stroke-width="0.8"/>
<line x1="262.42" y1="322.4" x2="262.42" y2="324.6" stroke="#333" stroke-width="0.8"/>
<line x1="285.16" y1="421.3" x2="285.16" y2="419.1" stroke="#333" stroke-width="0.8"/>
<line x1="285.16" y1="322.4" x2="285.16" y2="324.6" stroke="#333" stroke-width="0.8"/>
<line x1="296.53" y1="421.3" x2="296.53" y2="419.1" stroke="#333" stroke-width="0.8"/>
<line x1="296.53" y1="322.4" x2="296.53" y2="324.6" stroke="#333" stroke-width="0.8"/>
<line x1="307.91" y1="421.3" x2="307.91" y2="419.1" stroke="#333" stroke-width="0.8"/>
<line x1="307.91" y1="322.4" x2="307.91" y2="324.6" stroke="#333" stroke-width="0.8"/>
<line x1="330.65" y1="421.3" x2="330.65" y2="419.1" stroke="#333" stroke-width="0.8"/>
<line x1="330.65" y1="322.4" x2="330.65" y2="324.6" stroke="#333" stroke-width="0.8"/>
<line x1="342.02" y1="421.3" x2="342.02" y2="419.1" stroke="#333" stroke-width="0.8"/>
<line x1="342.02" y1="322.4" x2="342.02" y2="324.6" stroke="#333" stroke-width="0.8"/>
<line x1="353.39" y1="421.3" x2="353.39" y2="419.1" stroke="#333" stroke-width="0.8"/>
<line x1="353.39" y1="322.4" x2="353.39" y2="324.6" stroke="#333" stroke-width="0.8"/>
<line x1="376.14" y1="421.3" x2="376.14" y2="419.1" stroke="#333" stroke-width="0.8"/>
<line x1="376.14" y1="322.4" x2="376.14" y2="324.6" stroke="#333" stroke-width="0.8"/>
<line x1="387.51" y1="421.3" x2="387.51" y2="419.1" stroke="#333" stroke-width="0.8"/>
<line x1="387.51" y1="322.4" x2="387.51" y2="324.6" stroke="#333" stroke-width="0.8"/>
<line x1="398.88" y1="421.3" x2="398.88" y2="419.1" stroke="#333" stroke-width="0.8"/>
<line x1="398.88" y1="322.4" x2="398.88" y2="324.6" stroke="#333" stroke-width="0.8"/>
<line x1="421.63" y1="421.3" x2="421.63" y2="419.1" stroke="#333" stroke-width="0.8"/>
<line x1="421.63" y1="322.4" x2="421.63" y2="324.6" stroke="#333" stroke-width="0.8"/>
<line x1="433" y1="421.3" x2="433" y2="419.1" stroke="#333" stroke-width="0.8"/>
<line x1="433" y1="322.4" x2="433" y2="324.6" stroke="#333" stroke-width="0.8"/>
<line x1="444.37" y1="421.3" x2="444.37" y2="419.1" stroke="#333" stroke-width="0.8"/>
<line x1="444.37" y1="322.4" x2="444.37" y2="324.6" stroke="#333" stroke-width="0.8"/>
<line x1="467.11" y1="421.3" x2="467.11" y2="419.1" stroke="#333" stroke-width="0.8"/>
<line x1="467.11" y1="322.4" x2="467.11" y2="324.6" stroke="#333" stroke-width="0.8"/>
<line x1="478.49" y1="421.3" x2="478.49" y2="419.1" stroke="#333" stroke-width="0.8"/>
<line x1="478.49" y1="322.4" x2="478.49" y2="324.6" stroke="#333" stroke-width="0.8"/>
<line x1="489.86" y1="421.3" x2="489.86" y2="419.1" stroke="#333" stroke-width="0.8"/>
<line x1="489.86" y1="322.4" x2="489.86" y2="324.6" stroke="#333" stroke-width="0.8"/>
<line x1="512.6" y1="421.3" x2="512.6" y2="419.1" stroke="#333" stroke-width="0.8"/>
<line x1="512.6" y1="322.4" x2="512.6" y2="324.6" stroke="#333" stroke-width="0.8"/>
<line x1="523.97" y1="421.3" x2="523.97" y2="419.1" stroke="#333" stroke-width="0.8"/>
<line x1="523.97" y1="322.4" x2="523.97" y2="324.6" stroke="#333" stroke-width="0.8"/>
<line x1="535.35" y1="421.3" x2="535.35" y2="419.1" stroke="#333" stroke-width="0.8"/>
<line x1="535.35" y1="322.4" x2="535.35" y2="324.6" stroke="#333" stroke-width="0.8"/>
<line x1="558.09" y1="421.3" x2="558.09" y2="419.1" stroke="#333" stroke-width="0.8"/>
<line x1="558.09" y1="322.4" x2="558.09" y2="324.6" stroke="#333" stroke-width="0.8"/>
<line x1="569.46" y1="421.3" x2="569.46" y2="419.1" stroke="#333" stroke-width="0.8"/>
<line x1="569.46" y1="322.4" x2="569.46" y2="324.6" stroke="#333" stroke-width="0.8"/>
<line x1="580.83" y1="421.3" x2="580.83" y2="419.1" stroke="#333" stroke-width="0.8"/>
<line x1="580.83" y1="322.4" x2="580.83" y2="324.6" stroke="#333" stroke-width="0.8"/>
<line x1="603.58" y1="421.3" x2="603.58" y2="419.1" stroke="#333" stroke-width="0.8"/>
<line x1="603.58" y1="322.4" x2="603.58" y2="324.6" stroke="#333" stroke-width="0.8"/>
<line x1="614.95" y1="421.3" x2="614.95" y2="419.1" stroke="#333" stroke-width="0.8"/>
<line x1="614.95" y1="322.4" x2="614.95" y2="324.6" stroke="#333" stroke-width="0.8"/>
<line x1="626.32" y1="421.3" x2="626.32" y2="419.1" stroke="#333" stroke-width="0.8"/>
<line x1="626.32" y1="322.4" x2="626.32" y2="324.6" stroke="#333" stroke-width="0.8"/>
<line x1="649.07" y1="421.3" x2="649.07" y2="419.1" stroke="#333" stroke-width="0.8"/>
<line x1="649.07" y1="322.4" x2="649.07" y2="324.6" stroke="#333" stroke-width="0.8"/>
<line x1="660.44" y1="421.3" x2="660.44" y2="419.1" stroke="#333" stroke-width="0.8"/>
<line x1="660.44" y1="322.4" x2="660.44" y2="324.6" stroke="#333" stroke-width="0.8"/>
<line x1="671.81" y1="421.3" x2="671.81" y2="419.1" stroke="#333" stroke-width="0.8"/>
<line x1="671.81" y1="322.4" x2="671.81" y2="324.6" stroke="#333" stroke-width="0.8"/>
<line x1="46.5" y1="404.4" x2="48.7" y2="404.4" stroke="#333" stroke-width="0.8"/>
<line x1="683" y1="404.4" x2="680.8" y2="404.4" stroke="#333" stroke-width="0.8"/>
<text x="42.2" y="409.3" text-anchor="end" font-family="'Liberation Serif', serif" font-size="16.2" fill="#1a1a1a">0</text>
<line x1="46.5" y1="371.45" x2="48.7" y2="371.45" stroke="#333" stroke-width="0.8"/>
<line x1="683" y1="371.45" x2="680.8" y2="371.45" stroke="#333" stroke-width="0.8"/>
<text x="42.2" y="376.35" text-anchor="end" font-family="'Liberation Serif', serif" font-size="16.2" fill="#1a1a1a">0.5</text>
<line x1="46.5" y1="338.5" x2="48.7" y2="338.5" stroke="#333" stroke-width="0.8"/>
<line x1="683" y1="338.5" x2="680.8" y2="338.5" stroke="#333" stroke-width="0.8"/>
<text x="42.2" y="343.4" text-anchor="end" font-family="'Liberation Serif', serif" font-size="16.2" fill="#1a1a1a">1</text>
<text x="69.09" y="439.5" text-anchor="middle" font-family="'Liberation Serif', serif" font-size="16.2" fill="#1a1a1a">1</text>
<text x="114.58" y="439.5" text-anchor="middle" font-family="'Liberation Serif', serif" font-size="16.2" fill="#1a1a1a">2</text>
<text x="160.07" y="439.5" text-anchor="middle" font-family="'Liberation Serif', serif" font-size="16.2" fill="#1a1a1a">3</text>
<text x="205.56" y="439.5" text-anchor="middle" font-family="'Liberation Serif', serif" font-size="16.2" fill="#1a1a1a">4</text>
<text x="251.05" y="439.5" text-anchor="middle" font-family="'Liberation Serif', serif" font-size="16.2" fill="#1a1a1a">5</text>
<text x="296.53" y="439.5" text-anchor="middle" font-family="'Liberation Serif', serif" font-size="16.2" fill="#1a1a1a">6</text>
<text x="342.02" y="439.5" text-anchor="middle" font-family="'Liberation Serif', serif" font-size="16.2" fill="#1a1a1a">7</text>
<text x="387.51" y="439.5" text-anchor="middle" font-family="'Liberation Serif', serif" font-size="16.2" fill="#1a1a1a">8</text>
<text x="433" y="439.5" text-anchor="middle" font-family="'Liberation Serif', serif" font-size="16.2" fill="#1a1a1a">9</text>
<text x="478.49" y="439.5" text-anchor="middle" font-family="'Liberation Serif', serif" font-size="16.2" fill="#1a1a1a">10</text>
<text x="523.97" y="439.5" text-anchor="middle" font-family="'Liberation Serif', serif" font-size="16.2" fill="#1a1a1a">11</text>
<text x="569.46" y="439.5" text-anchor="middle" font-family="'Liberation Serif', serif" font-size="16.2" fill="#1a1a1a">12</text>
<text x="614.95" y="439.5" text-anchor="middle" font-family="'Liberation Serif', serif" font-size="16.2" fill="#1a1a1a">13</text>
<text x="660.44" y="439.5" text-anchor="middle" font-family="'Liberation Serif', serif" font-size="16.2" fill="#1a1a1a">14</text>
<line x1="46.35" y1="405" x2="683.18" y2="405" stroke="#222" stroke-width="1.6" stroke-dasharray="5 5.43"/>
<line x1="53.42" y1="347.2" x2="62.02" y2="347.2" stroke="#5468b0" stroke-width="1.8"/>
<line x1="66.89" y1="347.1" x2="71.29" y2="347.1" stroke="#259f97" stroke-width="1.4"/>
<line x1="66.89" y1="347.7" x2="71.29" y2="347.7" stroke="#259f97" stroke-width="1.4"/>
<rect x="65.29" y="347.1" width="7.6" height="0.6" fill="none" stroke="#259f97" stroke-width="1.4"/>
<line x1="65.29" y1="347.4" x2="72.89" y2="347.4" stroke="#259f97" stroke-width="1.4"/>
<line x1="80.47" y1="347.1" x2="80.47" y2="345.7" stroke="#cf3779" stroke-width="1.4" stroke-dasharray="5.5 5.5"/>
<line x1="80.47" y1="350.1" x2="80.47" y2="348.8" stroke="#cf3779" stroke-width="1.4" stroke-dasharray="5.5 5.5"/>
<line x1="78.27" y1="345.7" x2="82.67" y2="345.7" stroke="#cf3779" stroke-width="1.4"/>
<line x1="78.27" y1="350.1" x2="82.67" y2="350.1" stroke="#cf3779" stroke-width="1.4"/>
<rect x="76.67" y="347.1" width="7.6" height="1.7" fill="none" stroke="#cf3779" stroke-width="1.4"/>
<line x1="76.67" y1="347.9" x2="84.27" y2="347.9" stroke="#cf3779" stroke-width="1.4"/>
<line x1="98.91" y1="342.9" x2="107.51" y2="342.9" stroke="#5468b0" stroke-width="1.8"/>
<line x1="114.58" y1="343" x2="114.58" y2="342.4" stroke="#259f97" stroke-width="1.4" stroke-dasharray="5.5 5.5"/>
<line x1="114.58" y1="344.2" x2="114.58" y2="343.6" stroke="#259f97" stroke-width="1.4" stroke-dasharray="5.5 5.5"/>
<line x1="112.38" y1="342.4" x2="116.78" y2="342.4" stroke="#259f97" stroke-width="1.4"/>
<line x1="112.38" y1="344.2" x2="116.78" y2="344.2" stroke="#259f97" stroke-width="1.4"/>
<rect x="110.78" y="343" width="7.6" height="0.6" fill="none" stroke="#259f97" stroke-width="1.4"/>
<line x1="110.78" y1="343.3" x2="118.38" y2="343.3" stroke="#259f97" stroke-width="1.4"/>
<line x1="125.95" y1="343.6" x2="125.95" y2="342.3" stroke="#cf3779" stroke-width="1.4" stroke-dasharray="5.5 5.5"/>
<line x1="125.95" y1="345.9" x2="125.95" y2="344.2" stroke="#cf3779" stroke-width="1.4" stroke-dasharray="5.5 5.5"/>
<line x1="123.75" y1="342.3" x2="128.15" y2="342.3" stroke="#cf3779" stroke-width="1.4"/>
<line x1="123.75" y1="345.9" x2="128.15" y2="345.9" stroke="#cf3779" stroke-width="1.4"/>
<rect x="122.15" y="343.6" width="7.6" height="0.6" fill="none" stroke="#cf3779" stroke-width="1.4"/>
<line x1="122.15" y1="343.9" x2="129.75" y2="343.9" stroke="#cf3779" stroke-width="1.4"/>
<line x1="144.4" y1="345.9" x2="153" y2="345.9" stroke="#5468b0" stroke-width="1.8"/>
<line x1="160.07" y1="346.4" x2="160.07" y2="345.7" stroke="#259f97" stroke-width="1.4" stroke-dasharray="5.5 5.5"/>
<line x1="160.07" y1="347.6" x2="160.07" y2="346.9" stroke="#259f97" stroke-width="1.4" stroke-dasharray="5.5 5.5"/>
<line x1="157.87" y1="345.7" x2="162.27" y2="345.7" stroke="#259f97" stroke-width="1.4"/>
<line x1="157.87" y1="347.6" x2="162.27" y2="347.6" stroke="#259f97" stroke-width="1.4"/>
<rect x="156.27" y="346.4" width="7.6" height="0.5" fill="none" stroke="#259f97" stroke-width="1.4"/>
<line x1="156.27" y1="346.65" x2="163.87" y2="346.65" stroke="#259f97" stroke-width="1.4"/>
<line x1="171.44" y1="346.3" x2="171.44" y2="344.6" stroke="#cf3779" stroke-width="1.4" stroke-dasharray="5.5 5.5"/>
<line x1="171.44" y1="349.3" x2="171.44" y2="347.6" stroke="#cf3779" stroke-width="1.4" stroke-dasharray="5.5 5.5"/>
<line x1="169.24" y1="344.6" x2="173.64" y2="344.6" stroke="#cf3779" stroke-width="1.4"/>
<line x1="169.24" y1="349.3" x2="173.64" y2="349.3" stroke="#cf3779" stroke-width="1.4"/>
<rect x="167.64" y="346.3" width="7.6" height="1.3" fill="none" stroke="#cf3779" stroke-width="1.4"/>
<line x1="167.64" y1="346.9" x2="175.24" y2="346.9" stroke="#cf3779" stroke-width="1.4"/>
<line x1="189.89" y1="351.4" x2="198.49" y2="351.4" stroke="#5468b0" stroke-width="1.8"/>
<line x1="205.56" y1="351.4" x2="205.56" y2="350.5" stroke="#259f97" stroke-width="1.4" stroke-dasharray="5.5 5.5"/>
<line x1="205.56" y1="352.9" x2="205.56" y2="351.9" stroke="#259f97" stroke-width="1.4" stroke-dasharray="5.5 5.5"/>
<line x1="203.36" y1="350.5" x2="207.76" y2="350.5" stroke="#259f97" stroke-width="1.4"/>
<line x1="203.36" y1="352.9" x2="207.76" y2="352.9" stroke="#259f97" stroke-width="1.4"/>
<rect x="201.76" y="351.4" width="7.6" height="0.5" fill="none" stroke="#259f97" stroke-width="1.4"/>
<line x1="201.76" y1="351.65" x2="209.36" y2="351.65" stroke="#259f97" stroke-width="1.4"/>
<line x1="216.93" y1="351.6" x2="216.93" y2="349.6" stroke="#cf3779" stroke-width="1.4" stroke-dasharray="5.5 5.5"/>
<line x1="216.93" y1="354.8" x2="216.93" y2="352.6" stroke="#cf3779" stroke-width="1.4" stroke-dasharray="5.5 5.5"/>
<line x1="214.73" y1="349.6" x2="219.13" y2="349.6" stroke="#cf3779" stroke-width="1.4"/>
<line x1="214.73" y1="354.8" x2="219.13" y2="354.8" stroke="#cf3779" stroke-width="1.4"/>
<rect x="213.13" y="351.6" width="7.6" height="1" fill="none" stroke="#cf3779" stroke-width="1.4"/>
<line x1="213.13" y1="352.1" x2="220.73" y2="352.1" stroke="#cf3779" stroke-width="1.4"/>
<line x1="235.37" y1="344.5" x2="243.97" y2="344.5" stroke="#5468b0" stroke-width="1.8"/>
<line x1="248.85" y1="344.5" x2="253.25" y2="344.5" stroke="#259f97" stroke-width="1.4"/>
<line x1="248.85" y1="345.4" x2="253.25" y2="345.4" stroke="#259f97" stroke-width="1.4"/>
<rect x="247.25" y="344.5" width="7.6" height="0.9" fill="none" stroke="#259f97" stroke-width="1.4"/>
<line x1="247.25" y1="344.95" x2="254.85" y2="344.95" stroke="#259f97" stroke-width="1.4"/>
<line x1="262.42" y1="344.5" x2="262.42" y2="343.5" stroke="#cf3779" stroke-width="1.4" stroke-dasharray="5.5 5.5"/>
<line x1="262.42" y1="345.8" x2="262.42" y2="345.1" stroke="#cf3779" stroke-width="1.4" stroke-dasharray="5.5 5.5"/>
<line x1="260.22" y1="343.5" x2="264.62" y2="343.5" stroke="#cf3779" stroke-width="1.4"/>
<line x1="260.22" y1="345.8" x2="264.62" y2="345.8" stroke="#cf3779" stroke-width="1.4"/>
<rect x="258.62" y="344.5" width="7.6" height="0.6" fill="none" stroke="#cf3779" stroke-width="1.4"/>
<line x1="258.62" y1="344.8" x2="266.22" y2="344.8" stroke="#cf3779" stroke-width="1.4"/>
<line x1="280.86" y1="362.35" x2="289.46" y2="362.35" stroke="#5468b0" stroke-width="1.8"/>
<line x1="296.53" y1="363.7" x2="296.53" y2="362.7" stroke="#259f97" stroke-width="1.4" stroke-dasharray="5.5 5.5"/>
<line x1="296.53" y1="365.1" x2="296.53" y2="364.2" stroke="#259f97" stroke-width="1.4" stroke-dasharray="5.5 5.5"/>
<line x1="294.33" y1="362.7" x2="298.73" y2="362.7" stroke="#259f97" stroke-width="1.4"/>
<line x1="294.33" y1="365.1" x2="298.73" y2="365.1" stroke="#259f97" stroke-width="1.4"/>
<rect x="292.73" y="363.7" width="7.6" height="0.5" fill="none" stroke="#259f97" stroke-width="1.4"/>
<line x1="292.73" y1="363.95" x2="300.33" y2="363.95" stroke="#259f97" stroke-width="1.4"/>
<line x1="307.91" y1="362.5" x2="307.91" y2="359.5" stroke="#cf3779" stroke-width="1.4" stroke-dasharray="5.5 5.5"/>
<line x1="307.91" y1="368" x2="307.91" y2="364.3" stroke="#cf3779" stroke-width="1.4" stroke-dasharray="5.5 5.5"/>
<line x1="305.71" y1="359.5" x2="310.11" y2="359.5" stroke="#cf3779" stroke-width="1.4"/>
<line x1="305.71" y1="368" x2="310.11" y2="368" stroke="#cf3779" stroke-width="1.4"/>
<rect x="304.11" y="362.5" width="7.6" height="1.8" fill="none" stroke="#cf3779" stroke-width="1.4"/>
<line x1="304.11" y1="363.4" x2="311.71" y2="363.4" stroke="#cf3779" stroke-width="1.4"/>
<line x1="326.35" y1="338.6" x2="334.95" y2="338.6" stroke="#5468b0" stroke-width="1.8"/>
<line x1="337.72" y1="338.6" x2="346.32" y2="338.6" stroke="#259f97" stroke-width="1.8"/>
<line x1="349.09" y1="338.6" x2="357.69" y2="338.6" stroke="#cf3779" stroke-width="1.8"/>
<line x1="371.84" y1="345.35" x2="380.44" y2="345.35" stroke="#5468b0" stroke-width="1.8"/>
<line x1="387.51" y1="345.3" x2="387.51" y2="344.6" stroke="#259f97" stroke-width="1.4" stroke-dasharray="5.5 5.5"/>
<line x1="385.31" y1="344.6" x2="389.71" y2="344.6" stroke="#259f97" stroke-width="1.4"/>
<line x1="385.31" y1="345.9" x2="389.71" y2="345.9" stroke="#259f97" stroke-width="1.4"/>
<rect x="383.71" y="345.3" width="7.6" height="0.6" fill="none" stroke="#259f97" stroke-width="1.4"/>
<line x1="383.71" y1="345.6" x2="391.31" y2="345.6" stroke="#259f97" stroke-width="1.4"/>
<line x1="398.88" y1="345.6" x2="398.88" y2="344.8" stroke="#cf3779" stroke-width="1.4" stroke-dasharray="5.5 5.5"/>
<line x1="398.88" y1="346.8" x2="398.88" y2="346.2" stroke="#cf3779" stroke-width="1.4" stroke-dasharray="5.5 5.5"/>
<line x1="396.68" y1="344.8" x2="401.08" y2="344.8" stroke="#cf3779" stroke-width="1.4"/>
<line x1="396.68" y1="346.8" x2="401.08" y2="346.8" stroke="#cf3779" stroke-width="1.4"/>
<rect x="395.08" y="345.6" width="7.6" height="0.6" fill="none" stroke="#cf3779" stroke-width="1.4"/>
<line x1="395.08" y1="345.9" x2="402.68" y2="345.9" stroke="#cf3779" stroke-width="1.4"/>
<line x1="417.33" y1="338.65" x2="425.93" y2="338.65" stroke="#5468b0" stroke-width="1.8"/>
<line x1="428.7" y1="338.65" x2="437.3" y2="338.65" stroke="#259f97" stroke-width="1.8"/>
<line x1="444.37" y1="339.3" x2="444.37" y2="339.2" stroke="#cf3779" stroke-width="1.4" stroke-dasharray="5.5 5.5"/>
<line x1="442.17" y1="338.6" x2="446.57" y2="338.6" stroke="#cf3779" stroke-width="1.4"/>
<line x1="442.17" y1="339.3" x2="446.57" y2="339.3" stroke="#cf3779" stroke-width="1.4"/>
<rect x="440.57" y="338.6" width="7.6" height="0.6" fill="none" stroke="#cf3779" stroke-width="1.4"/>
<line x1="440.57" y1="338.9" x2="448.17" y2="338.9" stroke="#cf3779" stroke-width="1.4"/>
<line x1="462.81" y1="341.05" x2="471.41" y2="341.05" stroke="#5468b0" stroke-width="1.8"/>
<line x1="478.49" y1="342.4" x2="478.49" y2="341.8" stroke="#259f97" stroke-width="1.4" stroke-dasharray="5.5 5.5"/>
<line x1="476.29" y1="341.2" x2="480.69" y2="341.2" stroke="#259f97" stroke-width="1.4"/>
<line x1="476.29" y1="342.4" x2="480.69" y2="342.4" stroke="#259f97" stroke-width="1.4"/>
<rect x="474.69" y="341.2" width="7.6" height="0.6" fill="none" stroke="#259f97" stroke-width="1.4"/>
<line x1="474.69" y1="341.5" x2="482.29" y2="341.5" stroke="#259f97" stroke-width="1.4"/>
<line x1="489.86" y1="341.9" x2="489.86" y2="340.9" stroke="#cf3779" stroke-width="1.4" stroke-dasharray="5.5 5.5"/>
<line x1="489.86" y1="343.9" x2="489.86" y2="342.5" stroke="#cf3779" stroke-width="1.4" stroke-dasharray="5.5 5.5"/>
<line x1="487.66" y1="340.9" x2="492.06" y2="340.9" stroke="#cf3779" stroke-width="1.4"/>
<line x1="487.66" y1="343.9" x2="492.06" y2="343.9" stroke="#cf3779" stroke-width="1.4"/>
<rect x="486.06" y="341.9" width="7.6" height="0.6" fill="none" stroke="#cf3779" stroke-width="1.4"/>
<line x1="486.06" y1="342.2" x2="493.66" y2="342.2" stroke="#cf3779" stroke-width="1.4"/>
<line x1="508.3" y1="346.6" x2="516.9" y2="346.6" stroke="#5468b0" stroke-width="1.8"/>
<line x1="523.97" y1="346.6" x2="523.97" y2="345.9" stroke="#259f97" stroke-width="1.4" stroke-dasharray="5.5 5.5"/>
<line x1="523.97" y1="349" x2="523.97" y2="347.4" stroke="#259f97" stroke-width="1.4" stroke-dasharray="5.5 5.5"/>
<line x1="521.77" y1="345.9" x2="526.17" y2="345.9" stroke="#259f97" stroke-width="1.4"/>
<line x1="521.77" y1="349" x2="526.17" y2="349" stroke="#259f97" stroke-width="1.4"/>
<rect x="520.17" y="346.6" width="7.6" height="0.8" fill="none" stroke="#259f97" stroke-width="1.4"/>
<line x1="520.17" y1="347" x2="527.77" y2="347" stroke="#259f97" stroke-width="1.4"/>
<line x1="535.35" y1="348.6" x2="535.35" y2="346.6" stroke="#cf3779" stroke-width="1.4" stroke-dasharray="5.5 5.5"/>
<line x1="535.35" y1="355.1" x2="535.35" y2="351.9" stroke="#cf3779" stroke-width="1.4" stroke-dasharray="5.5 5.5"/>
<line x1="533.15" y1="346.6" x2="537.55" y2="346.6" stroke="#cf3779" stroke-width="1.4"/>
<line x1="533.15" y1="355.1" x2="537.55" y2="355.1" stroke="#cf3779" stroke-width="1.4"/>
<rect x="531.55" y="348.6" width="7.6" height="3.3" fill="none" stroke="#cf3779" stroke-width="1.4"/>
<line x1="531.55" y1="349.3" x2="539.15" y2="349.3" stroke="#cf3779" stroke-width="1.4"/>
<line x1="553.79" y1="342.2" x2="562.39" y2="342.2" stroke="#5468b0" stroke-width="1.8"/>
<line x1="569.46" y1="342" x2="569.46" y2="341.6" stroke="#259f97" stroke-width="1.4" stroke-dasharray="5.5 5.5"/>
<line x1="569.46" y1="343.1" x2="569.46" y2="342.6" stroke="#259f97" stroke-width="1.4" stroke-dasharray="5.5 5.5"/>
<line x1="567.26" y1="341.6" x2="571.66" y2="341.6" stroke="#259f97" stroke-width="1.4"/>
<line x1="567.26" y1="343.1" x2="571.66" y2="343.1" stroke="#259f97" stroke-width="1.4"/>
<rect x="565.66" y="342" width="7.6" height="0.6" fill="none" stroke="#259f97" stroke-width="1.4"/>
<line x1="565.66" y1="342.3" x2="573.26" y2="342.3" stroke="#259f97" stroke-width="1.4"/>
<line x1="580.83" y1="342.5" x2="580.83" y2="341.9" stroke="#cf3779" stroke-width="1.4" stroke-dasharray="5.5 5.5"/>
<line x1="580.83" y1="343.5" x2="580.83" y2="343.1" stroke="#cf3779" stroke-width="1.4" stroke-dasharray="5.5 5.5"/>
<line x1="578.63" y1="341.9" x2="583.03" y2="341.9" stroke="#cf3779" stroke-width="1.4"/>
<line x1="578.63" y1="343.5" x2="583.03" y2="343.5" stroke="#cf3779" stroke-width="1.4"/>
<rect x="577.03" y="342.5" width="7.6" height="0.6" fill="none" stroke="#cf3779" stroke-width="1.4"/>
<line x1="577.03" y1="342.8" x2="584.63" y2="342.8" stroke="#cf3779" stroke-width="1.4"/>
<line x1="599.28" y1="338.6" x2="607.88" y2="338.6" stroke="#5468b0" stroke-width="1.8"/>
<line x1="610.65" y1="338.6" x2="619.25" y2="338.6" stroke="#259f97" stroke-width="1.8"/>
<line x1="622.02" y1="338.6" x2="630.62" y2="338.6" stroke="#cf3779" stroke-width="1.8"/>
<line x1="644.77" y1="338.6" x2="653.37" y2="338.6" stroke="#5468b0" stroke-width="1.8"/>
<line x1="656.14" y1="338.6" x2="664.74" y2="338.6" stroke="#259f97" stroke-width="1.8"/>
<line x1="667.51" y1="338.6" x2="676.11" y2="338.6" stroke="#cf3779" stroke-width="1.8"/>
<rect x="46.5" y="322.4" width="636.5" height="98.9" fill="none" stroke="#7a7a7a" stroke-width="1"/>
<text x="364.8" y="316.7" text-anchor="middle" font-family="'Liberation Serif', serif" font-size="17" fill="#1a1a1a"><tspan font-size="19.5">(</tspan>c<tspan font-size="19.5">)</tspan></text>
<text transform="translate(14,372) rotate(-90)" text-anchor="middle" font-family="'Liberation Serif', serif" font-size="16.4" textLength="100" lengthAdjust="spacing" fill="#1a1a1a"><tspan font-style="italic">g</tspan><tspan font-style="italic" font-size="11" dy="2.5">i</tspan><tspan dy="-2.5" font-size="18">(</tspan><tspan font-weight="bold">x</tspan>,<tspan font-style="italic">t</tspan><tspan font-size="18">)/</tspan><tspan font-style="italic">R</tspan><tspan font-style="italic" font-size="11" dy="2.5">i</tspan><tspan dy="-2.5" font-size="18">(</tspan><tspan font-weight="bold">x</tspan>,<tspan font-style="italic">t</tspan><tspan font-size="18">)</tspan></text>
<text x="364.9" y="465.5" text-anchor="middle" font-family="'Liberation Serif', serif" font-size="16.2" textLength="89" lengthAdjust="spacing" fill="#1a1a1a">Girder index</text>
</svg></body></html>
